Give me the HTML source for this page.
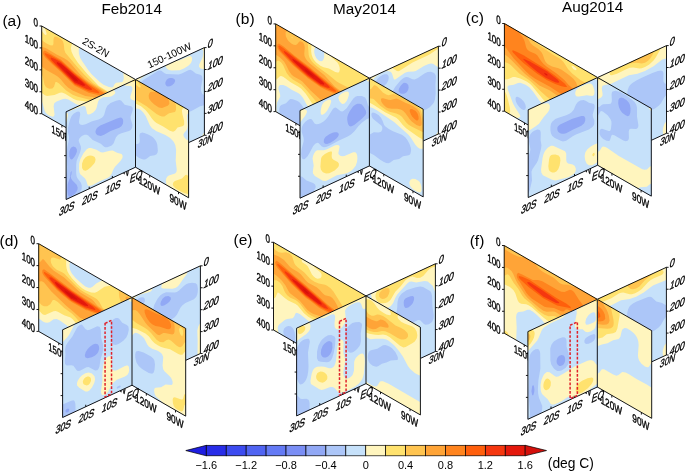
<!DOCTYPE html><html><head><meta charset="utf-8"><style>html,body{margin:0;padding:0;background:#fff;overflow:hidden}svg{display:block;will-change:transform}text{font-family:"Liberation Sans", sans-serif;fill:#000}</style></head><body>
<svg width="685" height="471" viewBox="0 0 685 471">
<rect width="685" height="471" fill="#fff"/>
<text x="101.5" y="14" font-size="15.3">Feb2014</text>
<text x="333" y="13.8" font-size="15.3">May2014</text>
<text x="562" y="11.6" font-size="15.3">Aug2014</text>
<g transform="matrix(93.800 53.500 0 87.700 41.700 26.000)">
<path d="M0 0H1V1H0Z" fill="#c6e1fa"/>
<path d="M.011 0L.4 0L.395 .037L.397 .075L.411 .113L.432 .139L.496 .2L.53 .225L.614 .257L.659 .267L.716 .26L.75 .244L.761 .23L.778 .188L.793 .163L.848 .125L.86 .113L.871 .087L.875 .062L.87 0L1 0L1 .552L.955 .551L.852 .534L.827 .537L.75 .567L.705 .577L.659 .581L.557 .578L.523 .587L.5 .598L.432 .646L.398 .661L.364 .667L.284 .666L.252 .675L.227 .694L.159 .765L.134 .8L.127 .838L.137 .925L.13 .95L.118 .962L.091 .971L.068 .972L.045 .964L.033 .95L.011 .879L0 .855L0 0Z" fill="#fff5be"/>
<path d="M.034 0L.324 0L.311 .062L.318 .1L.34 .138L.386 .183L.486 .25L.609 .312L.727 .317L.739 .328L.75 .329L.773 .353L.807 .349L.841 .332L.859 .312L.893 .263L.955 .227L.966 .216L1 .155L1 .355L.984 .375L.955 .427L.931 .45L.807 .469L.784 .482L.73 .525L.682 .543L.636 .548L.545 .547L.496 .562L.375 .618L.341 .623L.25 .621L.216 .627L.193 .642L.136 .705L.057 .763L.034 .77L0 .762L0 .053L.034 .078L.046 .075L.052 .062L.052 .05L.034 .009L.031 0Z" fill="#ffe26e"/>
<path d="M.159 .025L.205 .024L.226 .037L.235 .062L.241 .125L.252 .15L.375 .233L.455 .278L.545 .317L.716 .33L.727 .334L.749 .35L.756 .362L.759 .388L.755 .4L.746 .412L.727 .428L.705 .437L.709 .463L.7 .488L.687 .5L.659 .513L.625 .517L.545 .516L.386 .571L.33 .582L.261 .575L.182 .542L.159 .541L.147 .55L.131 .613L.114 .642L.08 .666L.057 .669L.045 .667L.029 .65L.013 .575L0 .549L0 .156L.023 .165L.057 .169L.091 .165L.114 .152L.122 .138L.125 .125L.126 .075L.131 .05L.137 .037Z" fill="#ffc450"/>
<path d="M.057 .224L.159 .229L.239 .222L.273 .225L.307 .238L.398 .295L.466 .325L.511 .333L.716 .347L.735 .362L.74 .375L.739 .388L.733 .4L.716 .413L.653 .425L.622 .437L.625 .45L.614 .464L.545 .478L.466 .513L.42 .523L.33 .533L.284 .531L.25 .517L.205 .486L.17 .472L.136 .469L.045 .472L0 .461L0 .24L.034 .227Z" fill="#ffa437"/>
<path d="M.034 .259L.205 .26L.352 .316L.5 .348L.602 .353L.676 .362L.716 .375L.716 .379L.714 .388L.682 .4L.614 .416L.5 .455L.352 .466L.205 .399L.114 .368L.034 .332L.016 .312L.014 .3L.019 .275Z" fill="#ff841e"/>
<path d="M.091 .274L.205 .274L.352 .328L.5 .362L.602 .375L.616 .388L.601 .4L.574 .412L.5 .438L.352 .452L.205 .386L.113 .35L.043 .312L.033 .3L.034 .287Z" fill="#ff5f0c"/>
<path d="M.182 .287L.205 .287L.352 .34L.532 .388L.537 .4L.519 .412L.481 .425L.352 .44L.152 .35L.107 .325L.095 .312L.099 .3L.136 .29Z" fill="#f5370f"/>
<path d="M.17 .31L.205 .304L.235 .312L.429 .375L.455 .388L.462 .4L.44 .412L.352 .427L.172 .338L.159 .325L.163 .312Z" fill="#e4180c"/>
<path d="M.261 .349L.33 .362L.367 .375L.387 .388L.384 .4L.352 .41L.267 .363L.256 .35Z" fill="#d4100c"/>
</g>
<g stroke="#000" stroke-width="0.9" fill="none">
<polyline points="135.50,79.50 41.70,26.00 41.70,113.70 135.50,167.20"/>
<line x1="41.70" y1="26.00" x2="39.50" y2="26.00"/>
<line x1="41.70" y1="47.92" x2="39.50" y2="47.92"/>
<line x1="41.70" y1="69.85" x2="39.50" y2="69.85"/>
<line x1="41.70" y1="91.78" x2="39.50" y2="91.78"/>
<line x1="41.70" y1="113.70" x2="39.50" y2="113.70"/>
<line x1="61.91" y1="125.23" x2="61.91" y2="127.43"/>
<line x1="91.23" y1="141.95" x2="91.23" y2="144.15"/>
<line x1="120.49" y1="158.64" x2="120.49" y2="160.84"/>
</g>
<text transform="matrix(0.700 0.401 0.000 1.000 38.10 27.60)" font-size="11.5" text-anchor="end" stroke="#000" stroke-width="0.35">0</text>
<text transform="matrix(0.700 0.401 0.000 1.000 38.10 49.52)" font-size="11.5" text-anchor="end" stroke="#000" stroke-width="0.35">100</text>
<text transform="matrix(0.700 0.401 0.000 1.000 38.10 71.45)" font-size="11.5" text-anchor="end" stroke="#000" stroke-width="0.35">200</text>
<text transform="matrix(0.700 0.401 0.000 1.000 38.10 93.38)" font-size="11.5" text-anchor="end" stroke="#000" stroke-width="0.35">300</text>
<text transform="matrix(0.700 0.401 0.000 1.000 38.10 115.30)" font-size="11.5" text-anchor="end" stroke="#000" stroke-width="0.35">400</text>
<text transform="matrix(0.680 0.390 0.050 1.000 60.71 137.83)" font-size="11.5" text-anchor="middle" stroke="#000" stroke-width="0.35">150E</text>
<text transform="matrix(0.680 0.390 0.050 1.000 119.29 171.24)" font-size="11.5" text-anchor="middle" stroke="#000" stroke-width="0.35">150W</text>
<text transform="matrix(0.868 0.497 -0.497 0.868 81.42 43.20)" font-size="10.3">2S-2N</text>
<g transform="matrix(68.900 -31.901 0 87.700 135.500 79.500)">
<path d="M0 0H1V1H0Z" fill="#91a8f5"/>
<path d="M.016 0L1 0L1 1L0 1L0 0ZM.475 .162L.453 .168L.434 .188L.434 .212L.45 .237L.469 .251L.5 .259L.531 .258L.562 .246L.576 .225L.565 .2L.531 .175L.5 .164Z" fill="#acc6f8"/>
<path d="M.016 0L1 0L1 .538L.984 .531L.966 .512L.951 .475L.95 .437L.972 .35L.965 .312L.94 .287L.875 .25L.826 .2L.797 .18L.766 .173L.672 .176L.625 .17L.448 .1L.422 .083L.375 .037L.359 .028L.328 .019L.109 .048L.083 .062L.072 .087L.076 .113L.085 .125L.156 .173L.172 .192L.181 .225L.18 .287L.191 .312L.219 .335L.281 .37L.337 .425L.413 .475L.475 .537L.516 .55L.609 .549L.641 .556L.669 .575L.719 .634L.754 .65L.812 .655L.938 .646L1 .656L1 1L0 1L0 0Z" fill="#c6e1fa"/>
<path d="M.016 0L.161 0L.078 .018L.047 .031L.031 .05L.013 .113L0 .136L0 0ZM.437 0L.589 0L.641 .013L.766 .015L.797 .023L.812 .035L.82 .05L.821 .075L.809 .1L.79 .113L.766 .121L.703 .13L.641 .127L.523 .087L.484 .068L.452 .037L.431 0ZM.984 0L1 0L1 .246L.969 .233L.938 .213L.922 .188L.926 .163L.968 .113L.98 .087L.986 .037L.969 0ZM1 .968L1 1L.963 1L.984 .976Z" fill="#fff5be"/>
</g>
<g stroke="#000" stroke-width="0.9" fill="none">
<polyline points="135.50,79.50 204.40,47.60 204.40,135.30 135.50,167.20"/>
<line x1="204.40" y1="47.60" x2="206.60" y2="47.60"/>
<line x1="204.40" y1="69.52" x2="206.60" y2="69.52"/>
<line x1="204.40" y1="91.45" x2="206.60" y2="91.45"/>
<line x1="204.40" y1="113.37" x2="206.60" y2="113.37"/>
<line x1="204.40" y1="135.30" x2="206.60" y2="135.30"/>
</g>
<text transform="matrix(0.750 -0.347 -0.220 1.000 207.00 48.40)" font-size="12.0" text-anchor="start" stroke="#000" stroke-width="0.35">0</text>
<text transform="matrix(0.750 -0.347 -0.220 1.000 207.00 70.32)" font-size="12.0" text-anchor="start" stroke="#000" stroke-width="0.35">100</text>
<text transform="matrix(0.750 -0.347 -0.220 1.000 207.00 92.25)" font-size="12.0" text-anchor="start" stroke="#000" stroke-width="0.35">200</text>
<text transform="matrix(0.750 -0.347 -0.220 1.000 207.00 114.17)" font-size="12.0" text-anchor="start" stroke="#000" stroke-width="0.35">300</text>
<text transform="matrix(0.750 -0.347 -0.220 1.000 207.00 136.10)" font-size="12.0" text-anchor="start" stroke="#000" stroke-width="0.35">400</text>
<text transform="matrix(0.720 -0.333 -0.200 1.000 204.90 144.80)" font-size="11.5" text-anchor="middle" stroke="#000" stroke-width="0.35">30N</text>
<text transform="matrix(0.908 -0.419 0.419 0.908 149.21 68.48)" font-size="10.3">150-100W</text>
<g transform="matrix(53.100 30.586 0 87.700 135.500 79.500)">
<path d="M0 0H1V1H0Z" fill="#acc6f8"/>
<path d="M.021 0L1 0L1 1L0 1L0 .865L.062 .87L.104 .868L.146 .861L.178 .85L.208 .832L.276 .775L.36 .738L.396 .715L.416 .688L.421 .662L.41 .6L.396 .577L.375 .561L.333 .546L.292 .542L.229 .543L.167 .551L.124 .562L.083 .588L.074 .613L.081 .662L.078 .688L.055 .713L0 .739L0 0Z" fill="#c6e1fa"/>
<path d="M.021 0L1 0L1 .037L.979 .052L.97 .075L.982 .175L.976 .212L.958 .248L.918 .287L.902 .312L.903 .325L.917 .34L.953 .35L1 .351L1 1L.581 1L.572 .95L.58 .925L.597 .9L.628 .875L.744 .813L.759 .8L.775 .775L.776 .75L.757 .662L.765 .537L.75 .488L.729 .466L.708 .454L.646 .439L.562 .438L.396 .453L.312 .446L.271 .429L.192 .35L.146 .324L.104 .314L.067 .312L0 .328L0 0Z" fill="#fff5be"/>
<path d="M.021 0L.912 0L.884 .025L.874 .05L.883 .087L.915 .15L.917 .191L.902 .212L.884 .225L.792 .271L.745 .325L.707 .35L.646 .36L.521 .353L.396 .359L.354 .354L.312 .339L.24 .3L.188 .282L.104 .27L0 .274L0 0ZM.938 .761L.958 .752L1 .751L1 .96L.917 .974L.833 .981L.771 .981L.729 .974L.708 .963L.702 .95L.712 .925L.742 .9L.875 .825Z" fill="#ffe26e"/>
<path d="M.062 0L.747 0L.763 .037L.763 .075L.753 .1L.741 .113L.632 .163L.542 .233L.5 .248L.458 .253L.396 .255L.208 .232L0 .229L0 .054L.062 .067L.087 .062L.098 .05L.091 .037L.062 .019L.046 0Z" fill="#ffc450"/>
<path d="M.375 .008L.392 0L.613 0L.632 .025L.638 .05L.633 .062L.606 .087L.5 .152L.438 .166L.354 .161L.299 .15L.268 .138L.254 .125L.248 .1L.255 .075L.273 .05L.292 .037Z" fill="#ffa437"/>
</g>
<g stroke="#000" stroke-width="0.9" fill="none">
<polyline points="135.50,79.50 188.60,110.09 188.60,197.79 135.50,167.20"/>
<line x1="149.68" y1="175.37" x2="149.68" y2="177.57"/>
<line x1="178.51" y1="191.97" x2="178.51" y2="194.17"/>
</g>
<text transform="matrix(0.720 0.413 0.000 1.000 149.18 189.17)" font-size="11.5" text-anchor="middle" stroke="#000" stroke-width="0.35">120W</text>
<text transform="matrix(0.720 0.413 0.000 1.000 178.01 205.77)" font-size="11.5" text-anchor="middle" stroke="#000" stroke-width="0.35">90W</text>
<g transform="matrix(69.400 -32.300 0 87.700 66.100 111.800)">
<path d="M0 0H1V1H0Z" fill="#91a8f5"/>
<path d="M.016 0L1 0L1 1L0 1L0 0ZM.492 .338L.453 .346L.438 .354L.424 .375L.423 .388L.433 .412L.453 .434L.5 .459L.547 .464L.641 .455L.766 .464L.797 .457L.819 .437L.823 .412L.819 .388L.801 .362L.781 .353L.734 .346ZM.07 .437L.057 .45L.047 .471L.046 .525L.062 .561L.078 .572L.094 .572L.125 .554L.141 .537L.155 .512L.155 .488L.141 .46L.109 .436L.094 .432ZM.065 .713L.056 .775L.031 .815L.023 .838L.019 .9L.025 .95L.035 .975L.047 .986L.078 .992L.125 .98L.154 .962L.163 .95L.167 .925L.152 .887L.088 .813L.073 .787L.067 .763L.078 .738L.08 .713L.078 .704Z" fill="#acc6f8"/>
<path d="M.016 0L1 0L1 1L.194 1L.224 .963L.226 .925L.213 .887L.161 .813L.15 .788L.145 .75L.145 .662L.152 .613L.202 .537L.215 .5L.213 .475L.181 .4L.183 .388L.191 .375L.214 .362L.234 .358L.266 .359L.297 .37L.319 .388L.384 .463L.5 .548L.548 .6L.566 .613L.594 .623L.641 .627L.656 .625L.683 .613L.719 .554L.75 .538L.797 .537L.906 .554L.932 .55L.948 .537L.954 .525L.956 .5L.931 .425L.929 .4L.959 .338L.96 .312L.955 .3L.938 .282L.844 .23L.792 .163L.766 .148L.719 .138L.641 .137L.594 .15L.573 .175L.549 .237L.534 .25L.516 .257L.469 .26L.375 .245L.281 .245L.234 .238L.203 .221L.188 .2L.186 .175L.204 .1L.196 .075L.178 .062L.156 .058L.107 .062L.078 .08L.062 .101L.045 .138L.025 .2L.025 .237L.041 .3L.041 .325L.017 .412L.009 .463L.008 .525L.017 .637L.012 .688L0 .729L0 0Z" fill="#c6e1fa"/>
<path d="M.047 0L.686 0L.709 .037L.705 .05L.688 .059L.656 .064L.625 .06L.531 .031L.484 .034L.463 .05L.438 .118L.422 .139L.391 .152L.344 .155L.32 .15L.304 .138L.281 .05L.272 .037L.251 .025L.203 .016L.062 .012L.047 .007L.043 0ZM.844 0L1 0L1 .244L.947 .212L.927 .188L.926 .163L.956 .1L.955 .075L.947 .062L.932 .05L.859 .019L.844 .007L.838 0ZM.016 .021L.024 .025L.027 .05L.016 .095L0 .129L0 .02ZM.297 .535L.328 .534L.359 .546L.438 .593L.5 .644L.531 .66L.629 .675L.672 .689L.734 .736L.8 .775L.815 .8L.811 .825L.783 .85L.702 .887L.679 .912L.654 .95L.625 .97L.594 .975L.484 .969L.375 .975L.328 .966L.31 .95L.288 .887L.273 .862L.204 .787L.193 .763L.186 .725L.188 .662L.203 .618L.25 .565Z" fill="#fff5be"/>
<path d="M.938 0L1 0L1 .022ZM.281 .621L.312 .618L.344 .624L.375 .638L.406 .662L.416 .675L.425 .7L.417 .725L.405 .738L.36 .763L.312 .776L.281 .775L.25 .759L.23 .725L.23 .675L.25 .64Z" fill="#ffe26e"/>
</g>
<g stroke="#000" stroke-width="0.9" fill="none">
<polyline points="135.50,79.50 66.10,111.80 66.10,199.50 135.50,167.20 135.50,79.50"/>
<line x1="66.10" y1="133.72" x2="64.10" y2="133.72"/>
<line x1="66.10" y1="155.65" x2="64.10" y2="155.65"/>
<line x1="66.10" y1="177.57" x2="64.10" y2="177.57"/>
<line x1="89.23" y1="188.73" x2="89.23" y2="186.73"/>
<line x1="112.37" y1="177.97" x2="112.37" y2="175.97"/>
</g>
<text transform="matrix(0.720 -0.333 -0.200 1.000 66.10 212.70)" font-size="12.0" text-anchor="middle" stroke="#000" stroke-width="0.35">30S</text>
<text transform="matrix(0.720 -0.333 -0.200 1.000 89.23 201.93)" font-size="12.0" text-anchor="middle" stroke="#000" stroke-width="0.35">20S</text>
<text transform="matrix(0.720 -0.333 -0.200 1.000 112.37 191.17)" font-size="12.0" text-anchor="middle" stroke="#000" stroke-width="0.35">10S</text>
<text transform="matrix(0.720 -0.333 -0.200 1.000 135.50 180.40)" font-size="12.0" text-anchor="middle" stroke="#000" stroke-width="0.35">EQ</text>
<text x="2.4" y="26.0" font-size="15.5">(a)</text>
<g transform="matrix(93.700 54.300 0 87.700 275.700 23.900)">
<path d="M0 0H1V1H0Z" fill="#acc6f8"/>
<path d="M.011 0L1 0L1 1L.317 1L.311 .95L.325 .862L.325 .838L.32 .813L.3 .775L.276 .75L.25 .737L.227 .735L.182 .746L.159 .758L.148 .769L.11 .838L.06 .887L.045 .911L.037 .95L.039 .975L.047 1L0 1L0 0Z" fill="#c6e1fa"/>
<path d="M.011 0L.421 0L.411 .05L.412 .075L.419 .1L.438 .125L.466 .134L.489 .124L.5 .111L.511 .088L.518 .05L.517 0L1 0L1 .557L.986 .575L.966 .633L.955 .648L.932 .655L.864 .639L.83 .641L.8 .662L.75 .73L.727 .743L.705 .748L.489 .732L.386 .751L.352 .736L.33 .714L.291 .662L.261 .642L.239 .639L.17 .645L.114 .64L.08 .646L.045 .67L.03 .7L.029 .725L.047 .775L.048 .8L.015 .887L.007 .95L.011 1L0 1L0 0Z" fill="#fff5be"/>
<path d="M.011 0L.382 0L.378 .075L.383 .113L.393 .138L.409 .159L.432 .174L.477 .183L.511 .177L.568 .158L.636 .155L.659 .147L.671 .138L.678 .125L.684 .1L.682 .075L.674 .05L.659 .033L.603 .013L.587 0L1 0L1 .347L.977 .346L.966 .353L.938 .412L.92 .437L.87 .488L.82 .55L.75 .626L.727 .647L.705 .657L.636 .654L.568 .671L.534 .676L.42 .673L.386 .662L.323 .6L.273 .571L.239 .567L.159 .568L.08 .554L.057 .558L.045 .568L0 .642L0 0Z" fill="#ffe26e"/>
<path d="M.011 0L.338 0L.345 .037L.352 .138L.361 .162L.384 .188L.409 .202L.443 .212L.557 .229L.648 .253L.682 .254L.773 .246L.818 .252L.839 .263L.852 .275L.867 .3L.881 .35L.877 .388L.862 .412L.807 .464L.761 .527L.739 .548L.716 .557L.659 .545L.636 .549L.572 .613L.549 .625L.523 .631L.477 .631L.432 .618L.318 .545L.273 .523L.182 .521L.148 .511L.117 .488L.08 .422L.057 .402L.033 .4L.023 .405L0 .431L0 0ZM.168 .05L.17 .053L.182 .052L.182 .043L.17 .044Z" fill="#ffc450"/>
<path d="M.023 0L.126 0L.109 .025L.105 .037L.108 .075L.123 .1L.136 .111L.17 .121L.193 .119L.216 .107L.231 .087L.25 .048L.261 .035L.284 .03L.295 .036L.305 .05L.31 .075L.305 .15L.307 .175L.321 .2L.341 .214L.375 .228L.518 .263L.629 .325L.682 .335L.705 .343L.721 .362L.724 .375L.721 .388L.705 .407L.686 .412L.668 .425L.653 .45L.591 .5L.545 .553L.534 .563L.511 .572L.477 .568L.375 .529L.284 .482L.261 .479L.193 .48L.17 .474L.142 .45L.111 .4L.089 .375L.045 .354L0 .349L0 .051L.011 .025L.016 0Z" fill="#ffa437"/>
<path d="M.034 .202L.08 .206L.205 .238L.364 .27L.419 .287L.455 .294L.466 .3L.5 .305L.671 .35L.699 .362L.705 .375L.699 .388L.682 .395L.545 .42L.477 .425L.341 .406L.331 .4L.295 .392L.182 .356L.045 .29L.034 .282L.018 .263L.015 .25L.017 .225Z" fill="#ff841e"/>
<path d="M.034 .224L.045 .22L.08 .225L.352 .281L.605 .35L.637 .362L.646 .375L.614 .39L.477 .414L.341 .391L.205 .349L.077 .287L.034 .259L.03 .237Z" fill="#ff5f0c"/>
<path d="M.091 .254L.114 .252L.148 .256L.352 .293L.552 .35L.574 .362L.577 .375L.551 .388L.477 .402L.341 .38L.182 .325L.097 .275L.085 .263Z" fill="#f5370f"/>
<path d="M.182 .286L.238 .287L.341 .303L.468 .338L.502 .35L.519 .362L.514 .375L.477 .388L.341 .367L.198 .312L.181 .3L.178 .287Z" fill="#e4180c"/>
<path d="M.318 .323L.354 .325L.411 .35L.349 .35L.32 .338L.31 .325Z" fill="#d4100c"/>
</g>
<g stroke="#000" stroke-width="0.9" fill="none">
<polyline points="369.40,78.20 275.70,23.90 275.70,111.60 369.40,165.90"/>
<line x1="275.70" y1="23.90" x2="273.50" y2="23.90"/>
<line x1="275.70" y1="45.83" x2="273.50" y2="45.83"/>
<line x1="275.70" y1="67.75" x2="273.50" y2="67.75"/>
<line x1="275.70" y1="89.68" x2="273.50" y2="89.68"/>
<line x1="275.70" y1="111.60" x2="273.50" y2="111.60"/>
<line x1="295.89" y1="123.30" x2="295.89" y2="125.50"/>
<line x1="325.17" y1="140.27" x2="325.17" y2="142.47"/>
<line x1="354.41" y1="157.21" x2="354.41" y2="159.41"/>
</g>
<text transform="matrix(0.700 0.401 0.000 1.000 272.10 25.50)" font-size="11.5" text-anchor="end" stroke="#000" stroke-width="0.35">0</text>
<text transform="matrix(0.700 0.401 0.000 1.000 272.10 47.43)" font-size="11.5" text-anchor="end" stroke="#000" stroke-width="0.35">100</text>
<text transform="matrix(0.700 0.401 0.000 1.000 272.10 69.35)" font-size="11.5" text-anchor="end" stroke="#000" stroke-width="0.35">200</text>
<text transform="matrix(0.700 0.401 0.000 1.000 272.10 91.28)" font-size="11.5" text-anchor="end" stroke="#000" stroke-width="0.35">300</text>
<text transform="matrix(0.700 0.401 0.000 1.000 272.10 113.20)" font-size="11.5" text-anchor="end" stroke="#000" stroke-width="0.35">400</text>
<text transform="matrix(0.680 0.390 0.050 1.000 294.69 135.90)" font-size="11.5" text-anchor="middle" stroke="#000" stroke-width="0.35">150E</text>
<text transform="matrix(0.680 0.390 0.050 1.000 353.21 169.81)" font-size="11.5" text-anchor="middle" stroke="#000" stroke-width="0.35">150W</text>
<g transform="matrix(69.000 -31.947 0 87.700 369.400 78.200)">
<path d="M0 0H1V1H0Z" fill="#91a8f5"/>
<path d="M.016 0L1 0L1 1L0 1L0 0ZM.48 .237L.453 .25L.428 .275L.423 .3L.428 .312L.452 .338L.473 .35L.5 .359L.531 .359L.55 .35L.562 .335L.569 .312L.564 .287L.548 .263L.531 .247L.5 .235Z" fill="#acc6f8"/>
<path d="M.016 0L1 0L1 1L0 1L0 0ZM.144 .038L.113 .05L.092 .075L.09 .113L.104 .138L.125 .152L.172 .164L.219 .163L.25 .151L.273 .125L.28 .1L.277 .075L.266 .057L.25 .045L.219 .035L.188 .033ZM.454 .188L.372 .237L.336 .275L.329 .3L.331 .312L.349 .338L.531 .462L.585 .525L.665 .575L.711 .625L.734 .642L.781 .655L.828 .656L.875 .649L.922 .628L.938 .612L.95 .588L.961 .525L.957 .425L.964 .338L.959 .312L.938 .282L.891 .25L.844 .237L.797 .236L.703 .254L.656 .254L.625 .24L.562 .194L.531 .18L.5 .176Z" fill="#c6e1fa"/>
<path d="M.016 0L1 0L1 .242L.922 .17L.891 .157L.859 .151L.797 .148L.672 .162L.641 .156L.562 .13L.516 .125L.375 .152L.359 .145L.353 .138L.326 .062L.307 .037L.266 .015L.219 .004L.172 .004L.125 .009L.094 .016L.062 .029L.043 .05L.021 .113L0 .138L0 0ZM1 .971L1 1L.963 1L.973 .988Z" fill="#fff5be"/>
<path d="M.328 0L1 0L1 .027L.859 .048L.625 .048L.438 .076L.422 .074L.398 .062Z" fill="#ffe26e"/>
</g>
<g stroke="#000" stroke-width="0.9" fill="none">
<polyline points="369.40,78.20 438.40,46.25 438.40,133.95 369.40,165.90"/>
<line x1="438.40" y1="46.25" x2="440.60" y2="46.25"/>
<line x1="438.40" y1="68.18" x2="440.60" y2="68.18"/>
<line x1="438.40" y1="90.10" x2="440.60" y2="90.10"/>
<line x1="438.40" y1="112.03" x2="440.60" y2="112.03"/>
<line x1="438.40" y1="133.95" x2="440.60" y2="133.95"/>
</g>
<text transform="matrix(0.750 -0.347 -0.220 1.000 441.00 47.05)" font-size="12.0" text-anchor="start" stroke="#000" stroke-width="0.35">0</text>
<text transform="matrix(0.750 -0.347 -0.220 1.000 441.00 68.98)" font-size="12.0" text-anchor="start" stroke="#000" stroke-width="0.35">100</text>
<text transform="matrix(0.750 -0.347 -0.220 1.000 441.00 90.90)" font-size="12.0" text-anchor="start" stroke="#000" stroke-width="0.35">200</text>
<text transform="matrix(0.750 -0.347 -0.220 1.000 441.00 112.83)" font-size="12.0" text-anchor="start" stroke="#000" stroke-width="0.35">300</text>
<text transform="matrix(0.750 -0.347 -0.220 1.000 441.00 134.75)" font-size="12.0" text-anchor="start" stroke="#000" stroke-width="0.35">400</text>
<text transform="matrix(0.720 -0.333 -0.200 1.000 438.90 143.45)" font-size="11.5" text-anchor="middle" stroke="#000" stroke-width="0.35">30N</text>
<g transform="matrix(53.800 30.989 0 87.700 369.400 78.200)">
<path d="M0 0H1V1H0Z" fill="#acc6f8"/>
<path d="M.021 0L1 0L1 1L0 1L0 .85L.083 .846L.208 .859L.271 .861L.312 .857L.354 .846L.388 .825L.45 .775L.552 .725L.625 .669L.708 .632L.743 .613L.764 .588L.775 .55L.771 .524L.746 .488L.708 .458L.667 .438L.604 .431L.438 .45L.354 .45L.292 .444L.271 .436L.246 .4L.216 .375L.167 .361L.104 .359L.062 .368L.042 .385L.036 .4L.044 .425L.062 .437L.083 .443L.226 .463L.239 .475L.239 .5L.224 .525L.208 .539L.167 .559L.081 .588L0 .644L0 0Z" fill="#c6e1fa"/>
<path d="M.021 0L1 0L1 .451L.938 .473L.896 .471L.854 .456L.771 .408L.721 .388L.458 .337L.146 .318L.062 .319L0 .329L0 0ZM.854 .847L.917 .848L.938 .856L.958 .876L.967 .9L.968 .938L.955 .962L.931 .975L.875 .982L.812 .978L.771 .968L.747 .95L.742 .925L.764 .887L.802 .862Z" fill="#fff5be"/>
<path d="M.021 0L1 0L1 .348L.917 .35L.688 .33L.625 .315L.542 .282L.5 .274L.292 .285L.083 .276L0 .277L0 0Z" fill="#ffe26e"/>
<path d="M.521 .012L.833 .006L.896 .01L.938 .019L.962 .037L1 .112L1 .262L.792 .274L.729 .272L.685 .263L.604 .227L.562 .221L.5 .225L.375 .249L.312 .253L.208 .244L.083 .21L.062 .211L0 .23L0 .128L.031 .113L.085 .05L.104 .043L.146 .044L.25 .075L.312 .077L.354 .068L.441 .025Z" fill="#ffc450"/>
<path d="M.75 .036L.812 .032L.875 .036L.917 .049L.933 .062L.958 .108L.972 .163L.97 .188L.963 .2L.938 .216L.875 .225L.792 .216L.75 .202L.667 .16L.625 .151L.583 .152L.521 .164L.417 .202L.354 .218L.312 .22L.271 .214L.236 .2L.221 .188L.215 .163L.229 .148L.255 .138L.354 .12L.396 .109L.5 .055L.542 .048L.667 .045Z" fill="#ffa437"/>
<path d="M.792 .071L.854 .069L.875 .075L.896 .088L.911 .113L.915 .138L.911 .15L.896 .166L.875 .172L.833 .169L.792 .153L.77 .138L.751 .113L.749 .1L.757 .087Z" fill="#ff841e"/>
</g>
<g stroke="#000" stroke-width="0.9" fill="none">
<polyline points="369.40,78.20 423.20,109.19 423.20,196.89 369.40,165.90"/>
<line x1="383.76" y1="174.17" x2="383.76" y2="176.37"/>
<line x1="412.98" y1="191.00" x2="412.98" y2="193.20"/>
</g>
<text transform="matrix(0.720 0.413 0.000 1.000 383.26 187.97)" font-size="11.5" text-anchor="middle" stroke="#000" stroke-width="0.35">120W</text>
<text transform="matrix(0.720 0.413 0.000 1.000 412.48 204.80)" font-size="11.5" text-anchor="middle" stroke="#000" stroke-width="0.35">90W</text>
<g transform="matrix(69.400 -32.300 0 87.700 300.000 110.500)">
<path d="M0 0H1V1H0Z" fill="#91a8f5"/>
<path d="M.016 0L1 0L1 1L0 1L0 0ZM.764 .237L.714 .275L.693 .3L.682 .325L.68 .35L.686 .388L.694 .412L.71 .437L.734 .453L.781 .452L.891 .421L.94 .4L.951 .388L.954 .375L.948 .35L.922 .302L.891 .261L.859 .239L.828 .228L.797 .227ZM.37 .437L.352 .45L.344 .463L.343 .488L.36 .512L.391 .526L.438 .53L.484 .524L.525 .512L.547 .5L.557 .488L.559 .475L.547 .455L.531 .444L.5 .432L.469 .427L.422 .426Z" fill="#acc6f8"/>
<path d="M.016 0L1 0L1 .33L.98 .3L.955 .225L.938 .196L.891 .163L.828 .14L.797 .138L.766 .148L.672 .221L.625 .237L.609 .236L.587 .225L.516 .157L.5 .152L.484 .154L.469 .162L.406 .217L.375 .237L.344 .249L.297 .255L.266 .253L.234 .244L.21 .225L.172 .167L.156 .154L.141 .149L.109 .148L.078 .156L.047 .174L.031 .193L.024 .212L.024 .25L.05 .325L.054 .35L.051 .375L.022 .45L.017 .5L.022 .538L.031 .56L.047 .574L.062 .578L.078 .576L.109 .561L.135 .537L.188 .476L.219 .459L.25 .46L.266 .469L.314 .525L.344 .545L.375 .554L.422 .557L.562 .549L.688 .549L.734 .543L.781 .527L.844 .488L.891 .467L.953 .453L1 .455L1 1L.191 1L.224 .963L.226 .95L.217 .925L.188 .895L.094 .834L.031 .766L0 .753L0 0Z" fill="#c6e1fa"/>
<path d="M.016 0L.053 0L.087 .025L.097 .037L.1 .05L.094 .067L.075 .087L0 .137L0 0ZM.969 0L1 0L1 .035L.984 .032L.969 .023L.96 0ZM.625 .025L.656 .027L.687 .037L.7 .05L.705 .062L.703 .087L.688 .12L.672 .138L.641 .155L.612 .15L.594 .137L.567 .1L.553 .062L.556 .05L.57 .037L.594 .029ZM.344 .033L.375 .026L.422 .031L.436 .037L.448 .05L.45 .062L.433 .1L.391 .147L.359 .165L.328 .169L.312 .164L.3 .15L.297 .113L.313 .062L.328 .043ZM.234 .546L.25 .546L.344 .58L.391 .585L.5 .583L.531 .588L.557 .6L.568 .613L.571 .625L.553 .688L.554 .7L.578 .728L.609 .746L.641 .756L.766 .757L.797 .77L.812 .786L.824 .813L.827 .85L.822 .887L.803 .925L.766 .95L.734 .959L.688 .962L.641 .958L.531 .934L.375 .941L.328 .921L.214 .825L.187 .787L.185 .763L.197 .7L.181 .613L.188 .588L.203 .565L.219 .552Z" fill="#fff5be"/>
<path d="M.328 .636L.359 .628L.406 .625L.438 .629L.457 .637L.461 .65L.456 .688L.461 .713L.482 .738L.544 .787L.561 .813L.559 .838L.548 .85L.5 .867L.422 .871L.375 .857L.33 .825L.302 .787L.294 .75L.303 .662L.312 .646Z" fill="#ffe26e"/>
</g>
<g stroke="#000" stroke-width="0.9" fill="none">
<polyline points="369.40,78.20 300.00,110.50 300.00,198.20 369.40,165.90 369.40,78.20"/>
<line x1="300.00" y1="132.43" x2="298.00" y2="132.43"/>
<line x1="300.00" y1="154.35" x2="298.00" y2="154.35"/>
<line x1="300.00" y1="176.28" x2="298.00" y2="176.28"/>
<line x1="323.13" y1="187.43" x2="323.13" y2="185.43"/>
<line x1="346.27" y1="176.67" x2="346.27" y2="174.67"/>
</g>
<text transform="matrix(0.720 -0.333 -0.200 1.000 300.00 211.40)" font-size="12.0" text-anchor="middle" stroke="#000" stroke-width="0.35">30S</text>
<text transform="matrix(0.720 -0.333 -0.200 1.000 323.13 200.63)" font-size="12.0" text-anchor="middle" stroke="#000" stroke-width="0.35">20S</text>
<text transform="matrix(0.720 -0.333 -0.200 1.000 346.27 189.87)" font-size="12.0" text-anchor="middle" stroke="#000" stroke-width="0.35">10S</text>
<text transform="matrix(0.720 -0.333 -0.200 1.000 369.40 179.10)" font-size="12.0" text-anchor="middle" stroke="#000" stroke-width="0.35">EQ</text>
<text x="235.6" y="24.2" font-size="15.5">(b)</text>
<g transform="matrix(93.200 54.000 0 87.700 504.400 23.500)">
<path d="M0 0H1V1H0Z" fill="#acc6f8"/>
<path d="M.011 0L1 0L1 1L0 1L0 0ZM.139 .75L.124 .763L.119 .787L.124 .813L.136 .833L.159 .854L.182 .862L.205 .859L.217 .85L.225 .838L.23 .813L.226 .788L.216 .77L.205 .759L.182 .749L.159 .746Z" fill="#c6e1fa"/>
<path d="M.011 0L1 0L1 .544L.966 .517L.943 .518L.909 .542L.862 .613L.851 .625L.83 .639L.807 .645L.739 .645L.67 .666L.625 .672L.477 .672L.432 .668L.398 .658L.375 .646L.307 .586L.267 .562L.227 .558L.17 .572L.146 .588L.1 .637L.045 .679L.034 .698L.033 .713L.04 .738L.091 .852L.114 .885L.165 .938L.171 .95L.169 .963L.136 1L0 1L0 0Z" fill="#fff5be"/>
<path d="M.011 0L1 0L1 .348L.977 .35L.966 .36L.948 .412L.932 .437L.83 .541L.807 .55L.75 .538L.727 .543L.716 .552L.679 .6L.659 .615L.636 .624L.602 .628L.489 .627L.443 .621L.409 .605L.295 .528L.273 .519L.239 .515L.17 .523L.114 .54L.091 .554L.037 .613L0 .639L0 0ZM.723 .037L.721 .05L.739 .065L.761 .064L.775 .05L.769 .038L.75 .031L.739 .031ZM.007 .775L.023 .799L.033 .825L.059 .925L.062 .963L.054 1L0 1L0 .767Z" fill="#ffe26e"/>
<path d="M.011 0L.322 0L.345 .013L.375 .018L.523 .034L.602 .035L.636 .051L.682 .1L.727 .122L.818 .144L.909 .137L.932 .138L.955 .147L.966 .158L.973 .175L.974 .213L.969 .225L.958 .237L.89 .263L.875 .274L.866 .287L.86 .312L.865 .375L.862 .4L.85 .425L.818 .455L.795 .465L.739 .474L.705 .486L.682 .501L.636 .548L.614 .562L.591 .564L.534 .554L.477 .559L.455 .556L.386 .532L.295 .491L.261 .482L.159 .471L.068 .431L.034 .429L0 .439L0 0Z" fill="#ffc450"/>
<path d="M.011 0L.236 0L.284 .054L.307 .062L.364 .066L.398 .082L.411 .1L.432 .151L.443 .165L.466 .177L.511 .176L.58 .154L.614 .15L.693 .161L.74 .175L.77 .2L.78 .225L.781 .25L.775 .3L.78 .362L.775 .388L.761 .407L.737 .425L.659 .464L.625 .476L.591 .478L.489 .464L.375 .477L.216 .438L.08 .372L.034 .356L0 .351L0 0Z" fill="#ffa437"/>
<path d="M.011 0L.149 0L.193 .033L.207 .05L.218 .075L.232 .125L.239 .137L.25 .147L.273 .152L.33 .142L.352 .146L.395 .188L.42 .204L.455 .214L.56 .225L.625 .243L.648 .252L.687 .275L.739 .293L.744 .312L.739 .327L.704 .338L.699 .35L.699 .375L.684 .4L.659 .418L.625 .429L.591 .429L.489 .419L.33 .426L.273 .418L.227 .403L.103 .338L.068 .312L.023 .271L0 .258L0 0Z" fill="#ff841e"/>
<path d="M.205 .237L.455 .246L.545 .26L.646 .287L.668 .3L.671 .312L.65 .325L.613 .338L.545 .354L.455 .364L.352 .355L.205 .324L.142 .3L.092 .275L.083 .263L.091 .25L.136 .242Z" fill="#ff5f0c"/>
<path d="M.205 .275L.273 .266L.455 .265L.566 .287L.587 .3L.588 .312L.57 .325L.545 .333L.443 .345L.352 .334L.268 .312L.206 .287Z" fill="#f5370f"/>
<path d="M.432 .298L.455 .297L.463 .3L.46 .312L.443 .314L.435 .312L.424 .3Z" fill="#e4180c"/>
</g>
<g stroke="#000" stroke-width="0.9" fill="none">
<polyline points="597.60,77.50 504.40,23.50 504.40,111.20 597.60,165.20"/>
<line x1="504.40" y1="23.50" x2="502.20" y2="23.50"/>
<line x1="504.40" y1="45.42" x2="502.20" y2="45.42"/>
<line x1="504.40" y1="67.35" x2="502.20" y2="67.35"/>
<line x1="504.40" y1="89.28" x2="502.20" y2="89.28"/>
<line x1="504.40" y1="111.20" x2="502.20" y2="111.20"/>
<line x1="524.48" y1="122.84" x2="524.48" y2="125.04"/>
<line x1="553.61" y1="139.71" x2="553.61" y2="141.91"/>
<line x1="582.69" y1="156.56" x2="582.69" y2="158.76"/>
</g>
<text transform="matrix(0.700 0.401 0.000 1.000 500.80 25.10)" font-size="11.5" text-anchor="end" stroke="#000" stroke-width="0.35">0</text>
<text transform="matrix(0.700 0.401 0.000 1.000 500.80 47.02)" font-size="11.5" text-anchor="end" stroke="#000" stroke-width="0.35">100</text>
<text transform="matrix(0.700 0.401 0.000 1.000 500.80 68.95)" font-size="11.5" text-anchor="end" stroke="#000" stroke-width="0.35">200</text>
<text transform="matrix(0.700 0.401 0.000 1.000 500.80 90.88)" font-size="11.5" text-anchor="end" stroke="#000" stroke-width="0.35">300</text>
<text transform="matrix(0.700 0.401 0.000 1.000 500.80 112.80)" font-size="11.5" text-anchor="end" stroke="#000" stroke-width="0.35">400</text>
<text transform="matrix(0.680 0.390 0.050 1.000 523.28 135.44)" font-size="11.5" text-anchor="middle" stroke="#000" stroke-width="0.35">150E</text>
<text transform="matrix(0.680 0.390 0.050 1.000 581.49 169.16)" font-size="11.5" text-anchor="middle" stroke="#000" stroke-width="0.35">150W</text>
<g transform="matrix(68.900 -31.901 0 87.700 597.600 77.500)">
<path d="M0 0H1V1H0Z" fill="#acc6f8"/>
<path d="M.016 0L1 0L1 .438L.977 .425L.959 .4L.954 .375L.956 .3L.948 .275L.922 .255L.875 .244L.795 .237L.641 .236L.562 .238L.5 .247L.469 .26L.452 .275L.437 .302L.429 .35L.434 .388L.453 .419L.531 .468L.586 .525L.665 .575L.719 .632L.75 .649L.781 .656L.828 .657L.891 .644L.922 .625L.969 .578L1 .561L1 1L0 1L0 0Z" fill="#c6e1fa"/>
<path d="M.016 0L1 0L1 .144L.938 .136L.812 .167L.688 .175L.578 .168L.453 .14L0 .146L0 0ZM1 .859L1 1L.955 1L.946 .963L.95 .925L.969 .884Z" fill="#fff5be"/>
<path d="M.188 0L.921 0L.848 .075L.812 .101L.75 .124L.688 .13L.641 .127L.609 .12L.516 .074L.469 .06L.422 .057L.281 .06L.207 .05L.183 .037L.176 .025L.177 0Z" fill="#ffe26e"/>
<path d="M.453 0L.819 0L.792 .037L.766 .06L.733 .075L.688 .081L.641 .074L.562 .036L.481 .013Z" fill="#ffc450"/>
</g>
<g stroke="#000" stroke-width="0.9" fill="none">
<polyline points="597.60,77.50 666.50,45.60 666.50,133.30 597.60,165.20"/>
<line x1="666.50" y1="45.60" x2="668.70" y2="45.60"/>
<line x1="666.50" y1="67.52" x2="668.70" y2="67.52"/>
<line x1="666.50" y1="89.45" x2="668.70" y2="89.45"/>
<line x1="666.50" y1="111.37" x2="668.70" y2="111.37"/>
<line x1="666.50" y1="133.30" x2="668.70" y2="133.30"/>
</g>
<text transform="matrix(0.750 -0.347 -0.220 1.000 669.10 46.40)" font-size="12.0" text-anchor="start" stroke="#000" stroke-width="0.35">0</text>
<text transform="matrix(0.750 -0.347 -0.220 1.000 669.10 68.32)" font-size="12.0" text-anchor="start" stroke="#000" stroke-width="0.35">100</text>
<text transform="matrix(0.750 -0.347 -0.220 1.000 669.10 90.25)" font-size="12.0" text-anchor="start" stroke="#000" stroke-width="0.35">200</text>
<text transform="matrix(0.750 -0.347 -0.220 1.000 669.10 112.17)" font-size="12.0" text-anchor="start" stroke="#000" stroke-width="0.35">300</text>
<text transform="matrix(0.750 -0.347 -0.220 1.000 669.10 134.10)" font-size="12.0" text-anchor="start" stroke="#000" stroke-width="0.35">400</text>
<text transform="matrix(0.720 -0.333 -0.200 1.000 667.00 142.80)" font-size="11.5" text-anchor="middle" stroke="#000" stroke-width="0.35">30N</text>
<g transform="matrix(53.700 30.931 0 87.700 597.600 77.500)">
<path d="M0 0H1V1H0Z" fill="#91a8f5"/>
<path d="M.021 0L1 0L1 1L0 1L0 0ZM.437 .075L.399 .1L.386 .125L.384 .162L.398 .2L.424 .225L.458 .239L.521 .248L.562 .243L.591 .225L.609 .188L.615 .138L.603 .1L.583 .083L.542 .068L.479 .066Z" fill="#acc6f8"/>
<path d="M.021 0L1 0L1 1L0 1L0 .442L.06 .362L.083 .355L.104 .354L.187 .365L.239 .388L.257 .412L.259 .437L.251 .488L.243 .512L.229 .53L.206 .537L.083 .555L.062 .564L.039 .588L.036 .625L.042 .638L.062 .655L.104 .665L.167 .663L.208 .652L.229 .637L.256 .575L.271 .557L.312 .549L.479 .549L.521 .542L.558 .525L.572 .512L.583 .487L.58 .412L.589 .388L.601 .375L.625 .363L.706 .338L.732 .325L.755 .3L.76 .275L.734 .188L.734 .087L.724 .062L.713 .05L.688 .037L.625 .024L.521 .017L.417 .018L.333 .033L.279 .062L.268 .075L.26 .1L.265 .163L.262 .188L.243 .213L.208 .23L.104 .268L.074 .287L.033 .325L0 .334L0 0Z" fill="#c6e1fa"/>
<path d="M.021 0L.22 0L.134 .038L.093 .062L.083 .075L.078 .1L.092 .15L.091 .175L.071 .2L0 .252L0 0ZM.958 0L1 0L1 .031L.979 .026L.958 .013L.948 0ZM1 .657L1 .858L.979 .87L.917 .921L.792 .973L.77 .988L.762 1L0 1L0 .849L.037 .825L.082 .763L.104 .75L.146 .742L.187 .741L.396 .755L.833 .751L.875 .743L.917 .725L.969 .675Z" fill="#fff5be"/>
<path d="M.021 0L.075 0L0 .024L0 0Z" fill="#ffe26e"/>
</g>
<g stroke="#000" stroke-width="0.9" fill="none">
<polyline points="597.60,77.50 651.30,108.43 651.30,196.13 597.60,165.20"/>
<line x1="611.94" y1="173.46" x2="611.94" y2="175.66"/>
<line x1="641.10" y1="190.25" x2="641.10" y2="192.45"/>
</g>
<text transform="matrix(0.720 0.413 0.000 1.000 611.44 187.26)" font-size="11.5" text-anchor="middle" stroke="#000" stroke-width="0.35">120W</text>
<text transform="matrix(0.720 0.413 0.000 1.000 640.60 204.05)" font-size="11.5" text-anchor="middle" stroke="#000" stroke-width="0.35">90W</text>
<g transform="matrix(69.400 -32.300 0 87.700 528.200 109.800)">
<path d="M0 0H1V1H0Z" fill="#91a8f5"/>
<path d="M.016 0L1 0L1 1L0 1L0 0ZM.459 .338L.438 .342L.425 .35L.419 .362L.421 .388L.435 .412L.461 .437L.484 .452L.516 .464L.547 .468L.641 .463L.766 .464L.807 .45L.822 .425L.822 .4L.81 .375L.795 .363L.766 .352L.637 .338ZM.06 .588L.062 .591L.065 .588Z" fill="#acc6f8"/>
<path d="M.016 0L1 0L1 1L0 1L0 .958L.022 .925L.055 .825L.047 .724L.06 .7L.124 .65L.143 .625L.185 .512L.191 .475L.179 .412L.181 .325L.173 .3L.156 .284L.133 .275L.094 .271L.059 .275L.031 .289L.011 .325L.011 .362L.032 .463L.024 .5L0 .536L0 0ZM.715 .175L.688 .193L.656 .24L.625 .259L.594 .264L.547 .265L.438 .251L.391 .25L.345 .263L.328 .281L.32 .312L.32 .35L.327 .388L.344 .424L.384 .463L.469 .527L.5 .546L.547 .554L.641 .539L.688 .536L.875 .548L.925 .537L.943 .525L.952 .512L.954 .475L.933 .425L.929 .4L.957 .325L.956 .3L.949 .287L.936 .275L.875 .241L.827 .2L.797 .182L.75 .171Z" fill="#c6e1fa"/>
<path d="M.016 0L.192 0L.219 .012L.269 .025L.294 .037L.31 .062L.312 .087L.304 .113L.281 .134L.219 .168L.156 .216L.109 .229L0 .246L0 0ZM.75 .012L.844 .017L.88 .025L.907 .037L.929 .062L.949 .113L.956 .15L.951 .175L.938 .183L.922 .181L.844 .145L.734 .12L.712 .112L.692 .1L.678 .075L.679 .05L.684 .037L.703 .022ZM.969 0L1 0L1 .029L.971 .013L.963 0ZM.281 .535L.328 .531L.359 .542L.531 .667L.548 .7L.548 .775L.554 .8L.574 .825L.641 .859L.672 .887L.687 .925L.683 .95L.672 .964L.641 .977L.578 .981L.391 .949L.344 .924L.211 .825L.19 .787L.185 .75L.207 .625L.219 .591L.234 .567L.25 .552ZM.906 .748L.953 .746L1 .75L1 .961L.969 .97L.922 .971L.875 .955L.844 .925L.82 .875L.813 .825L.824 .787L.853 .763Z" fill="#fff5be"/>
<path d="M.312 .648L.328 .64L.344 .639L.391 .654L.438 .683L.459 .713L.464 .75L.453 .802L.433 .838L.406 .853L.375 .854L.344 .841L.312 .817L.297 .794L.29 .75L.301 .675ZM.938 .837L.953 .841L.958 .862L.953 .873L.937 .877L.925 .862L.924 .85Z" fill="#ffe26e"/>
</g>
<g stroke="#000" stroke-width="0.9" fill="none">
<polyline points="597.60,77.50 528.20,109.80 528.20,197.50 597.60,165.20 597.60,77.50"/>
<line x1="528.20" y1="131.72" x2="526.20" y2="131.72"/>
<line x1="528.20" y1="153.65" x2="526.20" y2="153.65"/>
<line x1="528.20" y1="175.57" x2="526.20" y2="175.57"/>
<line x1="551.33" y1="186.73" x2="551.33" y2="184.73"/>
<line x1="574.47" y1="175.97" x2="574.47" y2="173.97"/>
</g>
<text transform="matrix(0.720 -0.333 -0.200 1.000 528.20 210.70)" font-size="12.0" text-anchor="middle" stroke="#000" stroke-width="0.35">30S</text>
<text transform="matrix(0.720 -0.333 -0.200 1.000 551.33 199.93)" font-size="12.0" text-anchor="middle" stroke="#000" stroke-width="0.35">20S</text>
<text transform="matrix(0.720 -0.333 -0.200 1.000 574.47 189.17)" font-size="12.0" text-anchor="middle" stroke="#000" stroke-width="0.35">10S</text>
<text transform="matrix(0.720 -0.333 -0.200 1.000 597.60 178.40)" font-size="12.0" text-anchor="middle" stroke="#000" stroke-width="0.35">EQ</text>
<text x="465.8" y="23.4" font-size="15.5">(c)</text>
<g transform="matrix(93.300 53.800 0 87.700 38.700 243.700)">
<path d="M0 0H1V1H0Z" fill="#c6e1fa"/>
<path d="M.011 0L.335 0L.329 .037L.332 .075L.341 .101L.357 .125L.398 .15L.47 .175L.5 .18L.534 .176L.557 .162L.577 .138L.616 .075L.68 0L1 0L1 .654L.943 .657L.841 .642L.75 .666L.705 .672L.648 .672L.58 .662L.557 .665L.523 .683L.466 .73L.432 .744L.318 .748L.227 .736L.193 .739L.16 .762L.115 .825L.091 .846L.068 .856L.045 .859L0 .85L0 0Z" fill="#fff5be"/>
<path d="M.011 0L.294 0L.294 .062L.299 .1L.308 .125L.325 .15L.356 .175L.42 .207L.466 .221L.5 .223L.562 .212L.602 .189L.627 .163L.705 .058L.76 .013L.768 0L1 0L1 .442L.966 .421L.955 .42L.932 .429L.859 .5L.786 .588L.761 .607L.727 .623L.67 .629L.602 .618L.568 .617L.534 .627L.477 .661L.443 .673L.409 .668L.364 .639L.341 .632L.273 .647L.205 .649L.182 .657L.159 .674L.068 .77L.045 .779L.027 .775L0 .756L0 0Z" fill="#ffe26e"/>
<path d="M.011 0L.242 0L.238 .025L.227 .042L.159 .059L.14 .075L.133 .087L.128 .113L.133 .138L.148 .16L.159 .169L.193 .18L.25 .172L.273 .173L.407 .237L.455 .253L.489 .255L.591 .248L.625 .25L.648 .264L.685 .312L.727 .319L.754 .338L.761 .352L.818 .345L.852 .354L.868 .375L.867 .4L.852 .427L.792 .487L.75 .542L.728 .562L.716 .568L.693 .572L.636 .559L.602 .56L.557 .574L.477 .616L.455 .621L.432 .618L.38 .588L.352 .577L.273 .566L.205 .54L.17 .537L.151 .55L.124 .613L.091 .656L.057 .679L.034 .681L.023 .676L0 .663L0 0ZM.864 0L1 0L1 .149L.966 .156L.932 .154L.909 .146L.886 .129L.87 .1L.863 .075L.859 .025L.86 0Z" fill="#ffc450"/>
<path d="M.955 .023L.968 .025L.981 .037L.983 .05L.98 .062L.966 .077L.955 .078L.943 .074L.934 .062L.931 .05L.933 .037L.943 .027ZM.045 .148L.057 .147L.113 .188L.159 .207L.273 .219L.443 .282L.568 .286L.591 .295L.614 .312L.636 .322L.716 .331L.728 .338L.74 .35L.746 .362L.746 .375L.742 .388L.727 .404L.672 .425L.665 .437L.652 .45L.533 .537L.477 .57L.443 .573L.375 .549L.295 .527L.136 .463L.057 .408L.034 .407L0 .43L0 .217L.015 .2Z" fill="#ffa437"/>
<path d="M.057 .257L.148 .269L.366 .312L.568 .329L.705 .347L.718 .35L.728 .362L.728 .375L.716 .391L.568 .43L.524 .437L.511 .444L.352 .449L.318 .445L.304 .437L.273 .432L.193 .408L.057 .332L.04 .312L.038 .3L.041 .275Z" fill="#ff841e"/>
<path d="M.068 .283L.136 .284L.352 .322L.622 .35L.674 .362L.682 .375L.663 .388L.625 .4L.5 .431L.341 .437L.205 .397L.138 .362L.065 .312L.056 .3L.057 .288Z" fill="#ff5f0c"/>
<path d="M.114 .312L.136 .303L.193 .307L.352 .333L.568 .36L.585 .362L.61 .375L.598 .388L.5 .419L.352 .427L.193 .379L.13 .338L.117 .325Z" fill="#f5370f"/>
<path d="M.193 .324L.477 .362L.527 .375L.53 .388L.489 .404L.341 .413L.196 .362L.171 .338L.182 .326Z" fill="#e4180c"/>
<path d="M.284 .36L.359 .362L.411 .375L.415 .388L.352 .399L.341 .397L.289 .375L.274 .363Z" fill="#d4100c"/>
</g>
<g stroke="#000" stroke-width="0.9" fill="none">
<polyline points="132.00,297.50 38.70,243.70 38.70,331.40 132.00,385.20"/>
<line x1="38.70" y1="243.70" x2="36.50" y2="243.70"/>
<line x1="38.70" y1="265.62" x2="36.50" y2="265.62"/>
<line x1="38.70" y1="287.55" x2="36.50" y2="287.55"/>
<line x1="38.70" y1="309.48" x2="36.50" y2="309.48"/>
<line x1="38.70" y1="331.40" x2="36.50" y2="331.40"/>
<line x1="58.81" y1="342.99" x2="58.81" y2="345.19"/>
<line x1="87.96" y1="359.81" x2="87.96" y2="362.01"/>
<line x1="117.07" y1="376.59" x2="117.07" y2="378.79"/>
</g>
<text transform="matrix(0.700 0.401 0.000 1.000 35.10 245.30)" font-size="11.5" text-anchor="end" stroke="#000" stroke-width="0.35">0</text>
<text transform="matrix(0.700 0.401 0.000 1.000 35.10 267.23)" font-size="11.5" text-anchor="end" stroke="#000" stroke-width="0.35">100</text>
<text transform="matrix(0.700 0.401 0.000 1.000 35.10 289.15)" font-size="11.5" text-anchor="end" stroke="#000" stroke-width="0.35">200</text>
<text transform="matrix(0.700 0.401 0.000 1.000 35.10 311.08)" font-size="11.5" text-anchor="end" stroke="#000" stroke-width="0.35">300</text>
<text transform="matrix(0.700 0.401 0.000 1.000 35.10 333.00)" font-size="11.5" text-anchor="end" stroke="#000" stroke-width="0.35">400</text>
<text transform="matrix(0.680 0.390 0.050 1.000 57.61 355.59)" font-size="11.5" text-anchor="middle" stroke="#000" stroke-width="0.35">150E</text>
<text transform="matrix(0.680 0.390 0.050 1.000 115.87 389.19)" font-size="11.5" text-anchor="middle" stroke="#000" stroke-width="0.35">150W</text>
<g transform="matrix(68.400 -31.669 0 87.700 132.000 297.500)">
<path d="M0 0H1V1H0Z" fill="#91a8f5"/>
<path d="M.016 0L1 0L1 1L0 1L0 0ZM.446 .175L.422 .2L.415 .225L.422 .244L.437 .255L.469 .26L.516 .255L.547 .245L.569 .225L.564 .2L.531 .174L.484 .163Z" fill="#acc6f8"/>
<path d="M.016 0L1 0L1 1L0 1L0 0ZM.077 .05L.062 .065L.056 .087L.057 .113L.067 .138L.078 .147L.109 .153L.141 .148L.172 .132L.187 .113L.189 .1L.182 .075L.171 .062L.148 .05L.125 .045L.094 .045ZM.415 .125L.371 .15L.326 .2L.308 .25L.309 .287L.321 .312L.333 .325L.406 .363L.422 .375L.469 .435L.5 .452L.562 .46L.625 .45L.656 .433L.705 .375L.734 .355L.781 .345L.906 .346L.938 .333L.953 .313L.961 .287L.964 .25L.954 .2L.932 .175L.879 .15L.828 .136L.797 .134L.766 .14L.688 .17L.656 .173L.625 .168L.5 .12L.453 .117Z" fill="#c6e1fa"/>
<path d="M.016 0L.301 0L.285 .025L.266 .031L.109 .008L.078 .007L.047 .014L.027 .037L0 .129L0 0ZM.437 .006L.44 0L.813 0L.8 .025L.75 .057L.696 .1L.672 .114L.641 .121L.594 .114L.455 .062L.435 .05L.427 .037ZM.984 0L1 0L1 .03L.981 .013L.978 0ZM1 .655L1 1L.958 1L.96 .838L.955 .725L.969 .681L.984 .663Z" fill="#fff5be"/>
</g>
<g stroke="#000" stroke-width="0.9" fill="none">
<polyline points="132.00,297.50 200.40,265.83 200.40,353.53 132.00,385.20"/>
<line x1="200.40" y1="265.83" x2="202.60" y2="265.83"/>
<line x1="200.40" y1="287.76" x2="202.60" y2="287.76"/>
<line x1="200.40" y1="309.68" x2="202.60" y2="309.68"/>
<line x1="200.40" y1="331.61" x2="202.60" y2="331.61"/>
<line x1="200.40" y1="353.53" x2="202.60" y2="353.53"/>
</g>
<text transform="matrix(0.750 -0.347 -0.220 1.000 203.00 266.63)" font-size="12.0" text-anchor="start" stroke="#000" stroke-width="0.35">0</text>
<text transform="matrix(0.750 -0.347 -0.220 1.000 203.00 288.56)" font-size="12.0" text-anchor="start" stroke="#000" stroke-width="0.35">100</text>
<text transform="matrix(0.750 -0.347 -0.220 1.000 203.00 310.48)" font-size="12.0" text-anchor="start" stroke="#000" stroke-width="0.35">200</text>
<text transform="matrix(0.750 -0.347 -0.220 1.000 203.00 332.41)" font-size="12.0" text-anchor="start" stroke="#000" stroke-width="0.35">300</text>
<text transform="matrix(0.750 -0.347 -0.220 1.000 203.00 354.33)" font-size="12.0" text-anchor="start" stroke="#000" stroke-width="0.35">400</text>
<text transform="matrix(0.720 -0.333 -0.200 1.000 200.90 363.03)" font-size="11.5" text-anchor="middle" stroke="#000" stroke-width="0.35">30N</text>
<g transform="matrix(53.700 30.931 0 87.700 132.000 297.500)">
<path d="M0 0H1V1H0Z" fill="#acc6f8"/>
<path d="M.021 0L1 0L1 1L0 1L0 0ZM.216 .55L.125 .565L.083 .585L.069 .6L.06 .625L.06 .662L.083 .712L.125 .738L.188 .75L.312 .751L.375 .738L.404 .713L.419 .675L.428 .613L.417 .571L.396 .555L.354 .547Z" fill="#c6e1fa"/>
<path d="M.021 0L1 0L1 1L.573 1L.541 .988L.458 .972L.435 .963L.421 .95L.411 .912L.422 .887L.437 .875L.542 .832L.625 .772L.735 .738L.751 .725L.757 .713L.755 .688L.729 .662L.697 .65L.604 .627L.581 .613L.569 .575L.582 .475L.563 .45L.542 .442L.479 .437L.375 .451L.312 .448L.287 .438L.228 .388L.194 .375L.146 .369L.104 .371L.062 .381L.042 .394L0 .432L0 0Z" fill="#fff5be"/>
<path d="M.021 0L1 0L1 .257L.938 .321L.896 .337L.854 .341L.708 .34L.604 .363L.542 .372L.479 .375L.417 .372L.375 .361L.312 .333L.25 .322L.083 .331L0 .346L0 0ZM1 .747L1 .867L.985 .875L.974 .887L.958 .938L.943 .963L.917 .976L.875 .981L.833 .98L.792 .971L.778 .963L.762 .938L.757 .9L.766 .875L.783 .862L.812 .854L.917 .841L.938 .833L.953 .813L.972 .763Z" fill="#ffe26e"/>
<path d="M.021 0L1 0L1 .159L.979 .167L.936 .225L.896 .251L.875 .256L.833 .257L.729 .237L.687 .238L.646 .256L.583 .305L.521 .324L.458 .32L.354 .28L.292 .266L.229 .261L.104 .264L.062 .261L0 .25L0 0ZM.895 .025L.876 .05L.88 .075L.896 .099L.917 .11L.937 .11L.953 .075L.947 .037L.937 .025L.917 .02Z" fill="#ffc450"/>
<path d="M.021 0L.769 0L.786 .025L.794 .05L.792 .113L.779 .138L.75 .156L.614 .188L.583 .2L.508 .25L.479 .255L.458 .254L.292 .215L.25 .201L.146 .139L.104 .122L.062 .121L0 .146L0 0Z" fill="#ffa437"/>
<path d="M.583 .011L.646 .012L.688 .021L.708 .031L.726 .05L.729 .075L.715 .1L.688 .119L.646 .131L.521 .15L.438 .171L.375 .173L.333 .165L.292 .146L.264 .125L.236 .087L.233 .062L.243 .05L.273 .037L.333 .03L.458 .025Z" fill="#ff841e"/>
</g>
<g stroke="#000" stroke-width="0.9" fill="none">
<polyline points="132.00,297.50 185.70,328.43 185.70,416.13 132.00,385.20"/>
<line x1="146.34" y1="393.46" x2="146.34" y2="395.66"/>
<line x1="175.50" y1="410.25" x2="175.50" y2="412.45"/>
</g>
<text transform="matrix(0.720 0.413 0.000 1.000 145.84 407.26)" font-size="11.5" text-anchor="middle" stroke="#000" stroke-width="0.35">120W</text>
<text transform="matrix(0.720 0.413 0.000 1.000 175.00 424.05)" font-size="11.5" text-anchor="middle" stroke="#000" stroke-width="0.35">90W</text>
<g transform="matrix(69.400 -32.300 0 87.700 62.600 329.800)">
<path d="M0 0H1V1H0Z" fill="#91a8f5"/>
<path d="M.016 0L1 0L1 1L0 1L0 0ZM.397 .338L.359 .353L.333 .375L.32 .412L.329 .437L.359 .456L.422 .468L.469 .466L.5 .453L.516 .437L.527 .412L.526 .388L.515 .362L.5 .347L.469 .332L.438 .33ZM.055 .925L.04 .938L.047 .957L.062 .967L.078 .968L.091 .963L.096 .95L.092 .938L.078 .927Z" fill="#acc6f8"/>
<path d="M.016 0L1 0L1 1L.187 1L.184 .912L.172 .874L.156 .862L.125 .855L0 .851L0 0ZM.244 .037L.219 .047L.203 .058L.141 .129L.072 .175L.045 .2L.035 .238L.041 .3L.032 .362L.035 .4L.047 .418L.062 .429L.125 .451L.156 .468L.203 .536L.22 .55L.25 .559L.344 .555L.375 .562L.469 .637L.5 .646L.516 .638L.531 .613L.547 .537L.577 .475L.586 .437L.581 .375L.552 .287L.552 .212L.542 .175L.531 .16L.5 .144L.391 .143L.359 .136L.328 .113L.281 .045L.266 .037ZM.734 .15L.719 .157L.703 .172L.689 .213L.702 .375L.711 .412L.729 .437L.766 .455L.812 .459L.875 .448L.918 .425L.938 .4L.954 .35L.948 .312L.926 .287L.86 .237L.815 .175L.797 .159L.766 .147ZM.791 .938L.777 .95L.788 .963L.828 .963L.842 .95L.824 .938ZM.014 1L0 1L0 .989Z" fill="#c6e1fa"/>
<path d="M.016 0L.173 0L.094 .091L.062 .113L0 .141L0 0ZM.938 0L1 0L1 .052L.969 .031ZM.641 .548L.656 .546L.677 .55L.694 .562L.701 .575L.706 .6L.701 .688L.71 .712L.721 .725L.75 .742L.781 .748L.891 .743L.922 .746L.938 .753L.953 .77L.96 .813L.953 .839L.938 .855L.922 .862L.891 .864L.781 .858L.734 .871L.703 .894L.654 .95L.63 .962L.609 .965L.589 .962L.567 .95L.555 .925L.554 .9L.573 .8L.573 .7L.587 .613L.609 .567ZM.281 .623L.328 .616L.375 .625L.422 .655L.46 .7L.468 .738L.456 .775L.425 .813L.391 .832L.359 .836L.328 .824L.24 .75L.209 .713L.206 .688L.216 .662L.245 .637Z" fill="#fff5be"/>
<path d="M1 0L1 .006L.992 0ZM.312 .67L.328 .665L.359 .665L.375 .671L.397 .688L.406 .702L.41 .725L.406 .738L.391 .757L.375 .764L.348 .763L.308 .738L.297 .722L.291 .7L.297 .684Z" fill="#ffe26e"/>
</g>
<g stroke="#000" stroke-width="0.9" fill="none">
<polyline points="132.00,297.50 62.60,329.80 62.60,417.50 132.00,385.20 132.00,297.50"/>
<line x1="62.60" y1="351.73" x2="60.60" y2="351.73"/>
<line x1="62.60" y1="373.65" x2="60.60" y2="373.65"/>
<line x1="62.60" y1="395.58" x2="60.60" y2="395.58"/>
<line x1="85.73" y1="406.73" x2="85.73" y2="404.73"/>
<line x1="108.87" y1="395.97" x2="108.87" y2="393.97"/>
</g>
<polygon points="105.07,323.36 111.53,320.36 111.53,393.85 105.07,396.86" fill="none" stroke="#e0202a" stroke-width="1.5" stroke-dasharray="2.7 1.6" stroke-linejoin="miter"/>
<text transform="matrix(0.720 -0.333 -0.200 1.000 62.60 430.70)" font-size="12.0" text-anchor="middle" stroke="#000" stroke-width="0.35">30S</text>
<text transform="matrix(0.720 -0.333 -0.200 1.000 85.73 419.93)" font-size="12.0" text-anchor="middle" stroke="#000" stroke-width="0.35">20S</text>
<text transform="matrix(0.720 -0.333 -0.200 1.000 108.87 409.17)" font-size="12.0" text-anchor="middle" stroke="#000" stroke-width="0.35">10S</text>
<text transform="matrix(0.720 -0.333 -0.200 1.000 132.00 398.40)" font-size="12.0" text-anchor="middle" stroke="#000" stroke-width="0.35">EQ</text>
<text x="-0.5" y="245.9" font-size="15.5">(d)</text>
<g transform="matrix(92.500 53.600 0 87.700 273.500 242.300)">
<path d="M0 0H1V1H0Z" fill="#acc6f8"/>
<path d="M.011 0L1 0L1 1L.233 1L.236 .938L.229 .887L.216 .859L.205 .849L.193 .845L.182 .845L.159 .857L.136 .88L.115 .912L.105 .95L.109 .975L.118 1L0 1L0 0Z" fill="#c6e1fa"/>
<path d="M.011 0L1 0L1 .544L.966 .517L.943 .517L.928 .525L.909 .543L.864 .61L.841 .631L.807 .642L.739 .642L.648 .669L.602 .672L.477 .665L.386 .667L.284 .645L.252 .65L.239 .664L.222 .713L.208 .738L.148 .785L.125 .807L.061 .9L.05 .925L.045 .95L.048 .975L.057 1L0 1L0 0Z" fill="#fff5be"/>
<path d="M.011 0L.31 0L.305 .025L.307 .037L.352 .042L.372 .05L.416 .113L.432 .124L.455 .128L.477 .123L.505 .1L.518 .075L.52 .05L.513 .037L.5 .029L.443 .013L.422 0L1 0L1 .356L.961 .425L.889 .475L.83 .549L.807 .559L.75 .55L.727 .554L.67 .607L.636 .623L.602 .627L.5 .619L.375 .621L.33 .606L.261 .56L.239 .557L.159 .567L.125 .561L.057 .54L.045 .545L.022 .613L0 .644L0 0Z" fill="#ffe26e"/>
<path d="M.17 .025L.193 .031L.201 .037L.225 .1L.239 .115L.261 .125L.331 .138L.398 .174L.443 .178L.489 .172L.557 .145L.58 .14L.614 .146L.648 .164L.739 .263L.764 .3L.77 .325L.772 .362L.768 .4L.761 .42L.75 .437L.685 .488L.643 .55L.625 .567L.596 .575L.523 .575L.409 .587L.375 .585L.352 .577L.286 .525L.261 .515L.239 .513L.182 .521L.148 .513L.13 .5L.12 .488L.095 .437L.068 .416L.034 .412L0 .433L0 .063L.023 .076L.057 .078L.091 .064L.136 .031Z" fill="#ffc450"/>
<path d="M.011 .134L.057 .127L.114 .132L.182 .173L.205 .177L.261 .176L.295 .185L.352 .224L.375 .232L.466 .227L.498 .237L.534 .258L.557 .263L.614 .244L.636 .247L.66 .263L.689 .3L.699 .325L.7 .362L.716 .373L.724 .388L.727 .4L.724 .412L.705 .435L.639 .45L.602 .494L.557 .519L.432 .553L.398 .555L.364 .548L.284 .494L.182 .473L.168 .463L.13 .412L.091 .384L.034 .362L0 .357L0 .139Z" fill="#ffa437"/>
<path d="M.034 .189L.08 .196L.205 .237L.364 .281L.375 .287L.489 .319L.58 .352L.684 .375L.705 .386L.709 .4L.706 .412L.693 .422L.591 .442L.489 .444L.402 .425L.352 .419L.193 .356L.045 .265L.028 .25L.018 .225L.019 .212Z" fill="#ff841e"/>
<path d="M.045 .216L.068 .216L.114 .225L.341 .289L.651 .388L.664 .4L.647 .412L.596 .425L.5 .429L.341 .401L.205 .345L.149 .312L.092 .275L.045 .238L.04 .225Z" fill="#ff5f0c"/>
<path d="M.125 .254L.159 .256L.245 .275L.422 .325L.562 .375L.584 .388L.592 .4L.554 .412L.489 .417L.341 .39L.193 .324L.128 .275L.118 .263Z" fill="#f5370f"/>
<path d="M.205 .293L.25 .294L.341 .313L.49 .362L.514 .375L.524 .388L.511 .396L.489 .401L.341 .377L.214 .312L.2 .3Z" fill="#e4180c"/>
<path d="M.318 .335L.341 .333L.384 .35L.375 .361L.352 .36L.328 .35L.315 .338Z" fill="#d4100c"/>
</g>
<g stroke="#000" stroke-width="0.9" fill="none">
<polyline points="366.00,295.90 273.50,242.30 273.50,330.00 366.00,383.60"/>
<line x1="273.50" y1="242.30" x2="271.30" y2="242.30"/>
<line x1="273.50" y1="264.23" x2="271.30" y2="264.23"/>
<line x1="273.50" y1="286.15" x2="271.30" y2="286.15"/>
<line x1="273.50" y1="308.08" x2="271.30" y2="308.08"/>
<line x1="273.50" y1="330.00" x2="271.30" y2="330.00"/>
<line x1="293.43" y1="341.55" x2="293.43" y2="343.75"/>
<line x1="322.34" y1="358.30" x2="322.34" y2="360.50"/>
<line x1="351.20" y1="375.02" x2="351.20" y2="377.22"/>
</g>
<text transform="matrix(0.700 0.401 0.000 1.000 269.90 243.90)" font-size="11.5" text-anchor="end" stroke="#000" stroke-width="0.35">0</text>
<text transform="matrix(0.700 0.401 0.000 1.000 269.90 265.83)" font-size="11.5" text-anchor="end" stroke="#000" stroke-width="0.35">100</text>
<text transform="matrix(0.700 0.401 0.000 1.000 269.90 287.75)" font-size="11.5" text-anchor="end" stroke="#000" stroke-width="0.35">200</text>
<text transform="matrix(0.700 0.401 0.000 1.000 269.90 309.68)" font-size="11.5" text-anchor="end" stroke="#000" stroke-width="0.35">300</text>
<text transform="matrix(0.700 0.401 0.000 1.000 269.90 331.60)" font-size="11.5" text-anchor="end" stroke="#000" stroke-width="0.35">400</text>
<text transform="matrix(0.680 0.390 0.050 1.000 292.23 354.15)" font-size="11.5" text-anchor="middle" stroke="#000" stroke-width="0.35">150E</text>
<text transform="matrix(0.680 0.390 0.050 1.000 350.00 387.62)" font-size="11.5" text-anchor="middle" stroke="#000" stroke-width="0.35">150W</text>
<g transform="matrix(69.400 -32.132 0 87.700 366.000 295.900)">
<path d="M0 0H1V1H0Z" fill="#91a8f5"/>
<path d="M.016 0L1 0L1 1L0 1L0 0ZM.567 .237L.548 .25L.543 .275L.547 .313L.562 .342L.578 .351L.609 .354L.641 .348L.663 .338L.677 .325L.691 .3L.693 .275L.688 .261L.672 .248L.641 .24L.594 .235Z" fill="#acc6f8"/>
<path d="M.016 0L1 0L1 1L0 1L0 0ZM.59 .15L.516 .163L.484 .18L.467 .2L.454 .237L.45 .3L.435 .362L.436 .388L.446 .412L.469 .435L.542 .475L.58 .525L.609 .546L.641 .553L.75 .551L.781 .565L.834 .625L.859 .643L.906 .654L.938 .65L.953 .643L.973 .613L.976 .575L.958 .475L.952 .35L.942 .312L.928 .287L.822 .2L.781 .178L.719 .164Z" fill="#c6e1fa"/>
<path d="M.078 0L1 0L1 .331L.96 .237L.89 .163L.844 .14L.723 .113L.656 .076L.625 .068L.594 .075L.453 .147L.425 .175L.391 .225L.359 .248L.312 .253L.266 .241L.188 .201L.156 .178L.125 .147L.103 .113L.088 .075L.074 .013L.073 0Z" fill="#fff5be"/>
<path d="M.156 .007L.164 0L1 0L1 .032L.953 .024L.922 .027L.892 .037L.828 .074L.781 .079L.734 .065L.67 .025L.641 .019L.594 .021L.562 .033L.5 .073L.422 .107L.359 .169L.344 .179L.312 .186L.281 .183L.234 .169L.198 .15L.168 .125L.15 .1L.137 .062L.137 .037Z" fill="#ffe26e"/>
<path d="M.219 .024L.25 .016L.281 .016L.312 .024L.331 .037L.338 .05L.339 .075L.33 .1L.312 .118L.297 .126L.266 .129L.234 .12L.206 .1L.191 .075L.19 .05L.198 .037Z" fill="#ffc450"/>
</g>
<g stroke="#000" stroke-width="0.9" fill="none">
<polyline points="366.00,295.90 435.40,263.77 435.40,351.47 366.00,383.60"/>
<line x1="435.40" y1="263.77" x2="437.60" y2="263.77"/>
<line x1="435.40" y1="285.69" x2="437.60" y2="285.69"/>
<line x1="435.40" y1="307.62" x2="437.60" y2="307.62"/>
<line x1="435.40" y1="329.54" x2="437.60" y2="329.54"/>
<line x1="435.40" y1="351.47" x2="437.60" y2="351.47"/>
</g>
<text transform="matrix(0.750 -0.347 -0.220 1.000 438.00 264.57)" font-size="12.0" text-anchor="start" stroke="#000" stroke-width="0.35">0</text>
<text transform="matrix(0.750 -0.347 -0.220 1.000 438.00 286.49)" font-size="12.0" text-anchor="start" stroke="#000" stroke-width="0.35">100</text>
<text transform="matrix(0.750 -0.347 -0.220 1.000 438.00 308.42)" font-size="12.0" text-anchor="start" stroke="#000" stroke-width="0.35">200</text>
<text transform="matrix(0.750 -0.347 -0.220 1.000 438.00 330.34)" font-size="12.0" text-anchor="start" stroke="#000" stroke-width="0.35">300</text>
<text transform="matrix(0.750 -0.347 -0.220 1.000 438.00 352.27)" font-size="12.0" text-anchor="start" stroke="#000" stroke-width="0.35">400</text>
<text transform="matrix(0.720 -0.333 -0.200 1.000 435.90 360.97)" font-size="11.5" text-anchor="middle" stroke="#000" stroke-width="0.35">30N</text>
<g transform="matrix(54.400 31.334 0 87.700 366.000 295.900)">
<path d="M0 0H1V1H0Z" fill="#acc6f8"/>
<path d="M.021 0L1 0L1 1L0 1L0 0ZM.398 .425L.354 .434L.312 .45L.208 .527L.091 .588L.062 .609L.042 .639L.032 .688L.042 .721L.062 .74L.083 .747L.125 .751L.167 .746L.196 .738L.229 .718L.292 .669L.375 .626L.455 .575L.576 .525L.587 .512L.584 .488L.542 .45L.479 .427L.438 .423Z" fill="#c6e1fa"/>
<path d="M.021 0L.969 0L1 .023L1 .552L.938 .559L.896 .558L.812 .542L.771 .523L.678 .45L.61 .412L.521 .38L.417 .363L.375 .363L.312 .377L.177 .425L.083 .465L.042 .469L0 .467L0 0ZM.312 .861L.417 .853L1 .855L1 1L0 1L0 .972L.042 .98L.104 .982L.146 .978L.188 .965L.208 .949L.254 .887L.273 .875Z" fill="#fff5be"/>
<path d="M.417 0L.591 0L.58 .025L.581 .037L.596 .05L.646 .063L.708 .063L.854 .043L.899 .05L.932 .075L.944 .113L.934 .15L.897 .2L.851 .237L.729 .321L.688 .343L.625 .345L.438 .316L.375 .315L.312 .329L.229 .364L.167 .384L.062 .409L0 .418L0 .036L.062 .018L.104 .019L.146 .03L.208 .061L.25 .073L.312 .079L.375 .077L.438 .063L.457 .05L.459 .037L.449 .025Z" fill="#ffe26e"/>
<path d="M.25 .125L.312 .119L.375 .12L.542 .143L.646 .136L.708 .137L.758 .15L.771 .163L.772 .188L.754 .212L.729 .231L.688 .252L.646 .265L.583 .271L.438 .27L.354 .278L.292 .296L.209 .338L.146 .36L.083 .373L0 .381L0 .166L.043 .188L.062 .191L.104 .19L.144 .175L.205 .138Z" fill="#ffc450"/>
<path d="M.312 .162L.354 .162L.397 .175L.412 .188L.416 .2L.41 .213L.396 .221L.354 .235L.271 .253L.249 .263L.182 .312L.125 .336L.062 .346L0 .341L0 .235L.104 .234L.182 .225L.208 .215L.267 .175Z" fill="#ffa437"/>
</g>
<g stroke="#000" stroke-width="0.9" fill="none">
<polyline points="366.00,295.90 420.40,327.23 420.40,414.93 366.00,383.60"/>
<line x1="380.52" y1="391.97" x2="380.52" y2="394.17"/>
<line x1="410.06" y1="408.98" x2="410.06" y2="411.18"/>
</g>
<text transform="matrix(0.720 0.413 0.000 1.000 380.02 405.77)" font-size="11.5" text-anchor="middle" stroke="#000" stroke-width="0.35">120W</text>
<text transform="matrix(0.720 0.413 0.000 1.000 409.56 422.78)" font-size="11.5" text-anchor="middle" stroke="#000" stroke-width="0.35">90W</text>
<g transform="matrix(69.400 -32.300 0 87.700 296.600 328.200)">
<path d="M0 0H1V1H0Z" fill="#91a8f5"/>
<path d="M.016 0L1 0L1 1L0 1L0 0ZM.397 .325L.375 .34L.354 .375L.349 .412L.354 .437L.371 .463L.391 .477L.422 .489L.453 .49L.484 .475L.504 .45L.516 .412L.514 .362L.498 .338L.469 .32L.438 .316Z" fill="#acc6f8"/>
<path d="M.016 0L1 0L1 1L.187 1L.187 .925L.182 .9L.172 .879L.141 .857L.078 .837L.056 .825L0 .758L0 .569L.032 .637L.047 .656L.062 .664L.094 .665L.124 .65L.141 .632L.157 .6L.168 .55L.172 .5L.164 .338L.191 .225L.185 .2L.172 .185L.151 .175L.109 .17L.078 .173L.047 .183L0 .229L0 0ZM.803 .237L.766 .245L.732 .263L.707 .287L.701 .312L.723 .388L.722 .488L.733 .525L.75 .548L.766 .56L.781 .568L.812 .573L.844 .569L.875 .558L.906 .537L.916 .525L.927 .487L.924 .4L.943 .312L.935 .287L.904 .263L.844 .242ZM.41 .25L.375 .261L.35 .275L.315 .312L.295 .375L.293 .45L.313 .488L.349 .512L.438 .549L.469 .554L.484 .552L.5 .543L.516 .523L.537 .475L.554 .4L.56 .325L.547 .297L.5 .262L.453 .247ZM.002 .975L.019 1L0 1Z" fill="#c6e1fa"/>
<path d="M.016 0L.179 0L.2 .037L.2 .062L.191 .087L.172 .105L.141 .119L.04 .138L0 .15L0 0ZM.328 0L1 0L1 .145L.969 .139L.953 .125L.929 .062L.906 .037L.875 .026L.844 .022L.797 .021L.75 .026L.717 .037L.703 .05L.698 .062L.709 .163L.695 .2L.656 .231L.625 .239L.609 .238L.578 .224L.562 .21L.549 .188L.546 .15L.556 .075L.547 .048L.531 .036L.5 .029L.406 .031L.375 .026L.344 .013ZM.609 .374L.625 .364L.641 .364L.656 .372L.672 .393L.677 .412L.673 .525L.702 .625L.676 .725L.673 .763L.681 .8L.703 .829L.734 .845L.766 .847L.794 .837L.81 .825L.827 .787L.83 .688L.844 .663L.859 .65L.891 .637L.922 .632L.953 .64L.969 .659L.98 .7L.983 .75L.969 .875L.955 .912L.938 .937L.895 .963L.837 .975L.75 .98L.672 .977L.625 .966L.6 .95L.551 .887L.519 .862L.484 .85L.391 .844L.359 .836L.328 .816L.206 .713L.199 .675L.217 .6L.234 .569L.25 .555L.266 .549L.297 .549L.359 .568L.4 .588L.469 .63L.5 .642L.531 .637L.546 .625L.561 .6L.569 .575L.588 .425L.595 .4Z" fill="#fff5be"/>
<path d="M.031 .011L.055 0L.078 .002L.094 .009L.117 .025L.126 .037L.123 .062L.109 .075L.078 .086L.047 .085L.031 .078L.017 .05L.021 .025ZM.297 .624L.312 .619L.344 .621L.375 .634L.406 .657L.432 .688L.443 .713L.442 .738L.432 .75L.406 .761L.375 .759L.344 .744L.319 .725L.296 .7L.283 .675L.281 .648Z" fill="#ffe26e"/>
</g>
<g stroke="#000" stroke-width="0.9" fill="none">
<polyline points="366.00,295.90 296.60,328.20 296.60,415.90 366.00,383.60 366.00,295.90"/>
<line x1="296.60" y1="350.12" x2="294.60" y2="350.12"/>
<line x1="296.60" y1="372.05" x2="294.60" y2="372.05"/>
<line x1="296.60" y1="393.98" x2="294.60" y2="393.98"/>
<line x1="319.73" y1="405.13" x2="319.73" y2="403.13"/>
<line x1="342.87" y1="394.37" x2="342.87" y2="392.37"/>
</g>
<polygon points="339.49,321.39 346.08,318.33 346.08,391.99 339.49,395.06" fill="none" stroke="#e0202a" stroke-width="1.5" stroke-dasharray="2.7 1.6" stroke-linejoin="miter"/>
<text transform="matrix(0.720 -0.333 -0.200 1.000 296.60 429.10)" font-size="12.0" text-anchor="middle" stroke="#000" stroke-width="0.35">30S</text>
<text transform="matrix(0.720 -0.333 -0.200 1.000 319.73 418.33)" font-size="12.0" text-anchor="middle" stroke="#000" stroke-width="0.35">20S</text>
<text transform="matrix(0.720 -0.333 -0.200 1.000 342.87 407.57)" font-size="12.0" text-anchor="middle" stroke="#000" stroke-width="0.35">10S</text>
<text transform="matrix(0.720 -0.333 -0.200 1.000 366.00 396.80)" font-size="12.0" text-anchor="middle" stroke="#000" stroke-width="0.35">EQ</text>
<text x="233.5" y="245.2" font-size="15.5">(e)</text>
<g transform="matrix(93.100 53.800 0 87.700 504.200 245.500)">
<path d="M0 0H1V1H0Z" fill="#c6e1fa"/>
<path d="M.011 0L1 0L1 .644L.489 .645L.455 .636L.404 .6L.352 .576L.307 .564L.273 .566L.25 .579L.205 .626L.155 .662L.145 .675L.133 .7L.128 .738L.134 .85L.129 1L0 1L0 0Z" fill="#fff5be"/>
<path d="M.011 0L1 0L1 .55L.727 .552L.58 .538L.557 .543L.5 .568L.466 .572L.42 .563L.295 .524L.261 .52L.236 .525L.182 .552L.159 .552L.144 .537L.12 .475L.1 .45L.08 .44L.057 .436L0 .442L0 0ZM.011 .964L.034 .967L.045 .982L.051 1L0 1L0 .965Z" fill="#ffe26e"/>
<path d="M.011 0L1 0L1 .457L.943 .447L.841 .451L.761 .444L.659 .472L.557 .468L.534 .476L.477 .514L.432 .526L.375 .519L.295 .49L.216 .47L.193 .452L.149 .4L.101 .362L.057 .31L.045 .305L.034 .307L0 .344L0 0Z" fill="#ffc450"/>
<path d="M.205 .007L.212 0L.331 0L.341 .013L.364 .031L.398 .044L.432 .047L.523 .04L.545 .044L.591 .061L.614 .063L.636 .055L.682 .028L.746 .013L.768 0L1 0L1 .249L.989 .253L.979 .263L.964 .312L.955 .333L.943 .344L.92 .354L.875 .357L.784 .338L.75 .339L.727 .351L.683 .4L.659 .417L.625 .425L.568 .42L.545 .422L.523 .432L.455 .476L.42 .485L.375 .481L.273 .451L.25 .442L.227 .427L.138 .338L.121 .312L.096 .263L.08 .245L.057 .235L.034 .234L0 .248L0 .041L.091 .041L.136 .036L.17 .027Z" fill="#ffa437"/>
<path d="M.705 .072L.727 .065L.75 .071L.803 .125L.848 .163L.857 .175L.866 .2L.864 .235L.852 .251L.816 .263L.803 .287L.795 .294L.682 .312L.661 .325L.636 .362L.614 .374L.534 .384L.455 .426L.432 .432L.295 .423L.261 .411L.239 .394L.166 .312L.148 .3L.136 .275L.135 .25L.148 .221L.193 .213L.307 .205L.364 .169L.409 .156L.568 .157L.614 .151L.648 .133Z" fill="#ff841e"/>
<path d="M.193 .237L.273 .226L.557 .253L.67 .253L.711 .263L.717 .275L.568 .336L.42 .344L.261 .314L.185 .287L.162 .275L.155 .263L.159 .249Z" fill="#ff5f0c"/>
<path d="M.25 .262L.273 .252L.409 .259L.544 .275L.592 .287L.585 .3L.557 .314L.42 .324L.273 .29L.248 .275Z" fill="#f5370f"/>
</g>
<g stroke="#000" stroke-width="0.9" fill="none">
<polyline points="597.30,299.30 504.20,245.50 504.20,333.20 597.30,387.00"/>
<line x1="504.20" y1="245.50" x2="502.00" y2="245.50"/>
<line x1="504.20" y1="267.43" x2="502.00" y2="267.43"/>
<line x1="504.20" y1="289.35" x2="502.00" y2="289.35"/>
<line x1="504.20" y1="311.27" x2="502.00" y2="311.27"/>
<line x1="504.20" y1="333.20" x2="502.00" y2="333.20"/>
<line x1="524.26" y1="344.79" x2="524.26" y2="346.99"/>
<line x1="553.36" y1="361.61" x2="553.36" y2="363.81"/>
<line x1="582.40" y1="378.39" x2="582.40" y2="380.59"/>
</g>
<text transform="matrix(0.700 0.401 0.000 1.000 500.60 247.10)" font-size="11.5" text-anchor="end" stroke="#000" stroke-width="0.35">0</text>
<text transform="matrix(0.700 0.401 0.000 1.000 500.60 269.03)" font-size="11.5" text-anchor="end" stroke="#000" stroke-width="0.35">100</text>
<text transform="matrix(0.700 0.401 0.000 1.000 500.60 290.95)" font-size="11.5" text-anchor="end" stroke="#000" stroke-width="0.35">200</text>
<text transform="matrix(0.700 0.401 0.000 1.000 500.60 312.88)" font-size="11.5" text-anchor="end" stroke="#000" stroke-width="0.35">300</text>
<text transform="matrix(0.700 0.401 0.000 1.000 500.60 334.80)" font-size="11.5" text-anchor="end" stroke="#000" stroke-width="0.35">400</text>
<text transform="matrix(0.680 0.390 0.050 1.000 523.06 357.39)" font-size="11.5" text-anchor="middle" stroke="#000" stroke-width="0.35">150E</text>
<text transform="matrix(0.680 0.390 0.050 1.000 581.20 390.99)" font-size="11.5" text-anchor="middle" stroke="#000" stroke-width="0.35">150W</text>
<g transform="matrix(69.100 -31.993 0 87.700 597.300 299.300)">
<path d="M0 0H1V1H0Z" fill="#acc6f8"/>
<path d="M.016 0L1 0L1 .436L.938 .384L.854 .338L.788 .263L.766 .25L.734 .242L.562 .234L.516 .236L.484 .243L.469 .25L.446 .275L.434 .312L.43 .35L.434 .388L.453 .419L.531 .468L.587 .525L.664 .575L.719 .632L.75 .649L.781 .656L.828 .657L.891 .645L.922 .626L.969 .577L1 .561L1 1L0 1L0 0Z" fill="#c6e1fa"/>
<path d="M.016 0L1 0L1 .146L.812 .137L.781 .141L.672 .168L.562 .176L.469 .169L.344 .137L.203 .143L0 .141L0 0ZM1 .859L1 1L.955 1L.946 .963L.949 .925L.969 .884Z" fill="#fff5be"/>
<path d="M.016 0L.932 0L.96 .037L.958 .05L.938 .062L.812 .058L.768 .062L.734 .073L.641 .12L.594 .129L.547 .13L.5 .124L.469 .114L.375 .06L.344 .05L.312 .049L.203 .061L.062 .055L0 .058L0 0Z" fill="#ffe26e"/>
<path d="M.453 0L.81 0L.688 .034L.609 .075L.562 .082L.516 .075L.484 .06L.45 .025L.439 0Z" fill="#ffc450"/>
</g>
<g stroke="#000" stroke-width="0.9" fill="none">
<polyline points="597.30,299.30 666.40,267.31 666.40,355.01 597.30,387.00"/>
<line x1="666.40" y1="267.31" x2="668.60" y2="267.31"/>
<line x1="666.40" y1="289.23" x2="668.60" y2="289.23"/>
<line x1="666.40" y1="311.16" x2="668.60" y2="311.16"/>
<line x1="666.40" y1="333.08" x2="668.60" y2="333.08"/>
<line x1="666.40" y1="355.01" x2="668.60" y2="355.01"/>
</g>
<text transform="matrix(0.750 -0.347 -0.220 1.000 669.00 268.11)" font-size="12.0" text-anchor="start" stroke="#000" stroke-width="0.35">0</text>
<text transform="matrix(0.750 -0.347 -0.220 1.000 669.00 290.03)" font-size="12.0" text-anchor="start" stroke="#000" stroke-width="0.35">100</text>
<text transform="matrix(0.750 -0.347 -0.220 1.000 669.00 311.96)" font-size="12.0" text-anchor="start" stroke="#000" stroke-width="0.35">200</text>
<text transform="matrix(0.750 -0.347 -0.220 1.000 669.00 333.88)" font-size="12.0" text-anchor="start" stroke="#000" stroke-width="0.35">300</text>
<text transform="matrix(0.750 -0.347 -0.220 1.000 669.00 355.81)" font-size="12.0" text-anchor="start" stroke="#000" stroke-width="0.35">400</text>
<text transform="matrix(0.720 -0.333 -0.200 1.000 666.90 364.51)" font-size="11.5" text-anchor="middle" stroke="#000" stroke-width="0.35">30N</text>
<g transform="matrix(54.400 31.334 0 87.700 597.300 299.300)">
<path d="M0 0H1V1H0Z" fill="#c6e1fa"/>
<path d="M.021 0L1 0L1 .361L.952 .425L.938 .439L.917 .448L.875 .454L.812 .446L.771 .425L.753 .4L.747 .375L.76 .25L.754 .212L.741 .188L.711 .163L.667 .146L.604 .136L.542 .136L.5 .148L.464 .175L.449 .2L.424 .275L.394 .312L.29 .362L.188 .435L.083 .485L0 .535L0 0ZM.521 .648L.583 .646L.729 .651L.917 .647L1 .65L1 1L0 1L0 .849L.036 .825L.083 .769L.125 .754L.292 .754L.354 .744L.389 .725L.458 .666Z" fill="#fff5be"/>
<path d="M.021 0L.407 0L.411 .037L.369 .2L.341 .25L.292 .284L.172 .338L.096 .4L0 .451L0 0Z" fill="#ffe26e"/>
<path d="M.021 0L.254 0L.262 .037L.297 .125L.302 .163L.298 .188L.285 .212L.25 .241L.188 .268L0 .326L0 0Z" fill="#ffc450"/>
<path d="M.021 0L.087 0L.167 .053L.189 .075L.214 .113L.225 .163L.208 .2L.173 .225L.104 .253L0 .281L0 0Z" fill="#ffa437"/>
<path d="M.021 .074L.062 .077L.083 .083L.114 .1L.137 .125L.145 .163L.132 .188L.1 .213L.045 .237L0 .25L0 .075Z" fill="#ff841e"/>
<path d="M.021 .131L.05 .15L.054 .175L.033 .2L0 .216L0 .126Z" fill="#ff5f0c"/>
</g>
<g stroke="#000" stroke-width="0.9" fill="none">
<polyline points="597.30,299.30 651.70,330.63 651.70,418.33 597.30,387.00"/>
<line x1="611.82" y1="395.37" x2="611.82" y2="397.57"/>
<line x1="641.36" y1="412.38" x2="641.36" y2="414.58"/>
</g>
<text transform="matrix(0.720 0.413 0.000 1.000 611.32 409.17)" font-size="11.5" text-anchor="middle" stroke="#000" stroke-width="0.35">120W</text>
<text transform="matrix(0.720 0.413 0.000 1.000 640.86 426.18)" font-size="11.5" text-anchor="middle" stroke="#000" stroke-width="0.35">90W</text>
<g transform="matrix(69.400 -32.300 0 87.700 527.900 331.600)">
<path d="M0 0H1V1H0Z" fill="#91a8f5"/>
<path d="M.016 0L1 0L1 1L0 1L0 0ZM.433 .45L.421 .463L.413 .488L.416 .512L.43 .537L.453 .559L.469 .566L.5 .568L.516 .562L.531 .544L.537 .525L.536 .5L.525 .475L.514 .463L.484 .445L.453 .442ZM.077 .637L.062 .643L.051 .7L.062 .749L.078 .754L.091 .725L.094 .7L.089 .662Z" fill="#acc6f8"/>
<path d="M.016 0L1 0L1 1L.19 1L.205 .963L.207 .925L.159 .813L.148 .763L.144 .712L.151 .613L.18 .488L.177 .312L.171 .288L.157 .263L.141 .25L.109 .241L.078 .244L.047 .258L.031 .275L.018 .312L.022 .475L.008 .713L.031 .938L.025 1L0 1L0 0ZM.378 .25L.359 .258L.339 .275L.322 .312L.324 .45L.336 .5L.377 .562L.422 .604L.453 .617L.484 .622L.541 .613L.58 .588L.593 .562L.596 .537L.586 .463L.557 .375L.557 .312L.552 .287L.533 .263L.5 .248L.438 .242ZM.854 .375L.828 .384L.814 .4L.815 .425L.836 .45L.875 .462L.922 .462L.953 .452L.967 .437L.972 .425L.972 .4L.966 .388L.953 .379L.906 .372Z" fill="#c6e1fa"/>
<path d="M.016 0L.546 0L.516 .02L.484 .027L.328 .025L.234 .037L.209 .05L.196 .062L.157 .125L.135 .15L0 .225L0 0ZM.703 0L1 0L1 .252L.987 .263L.969 .312L.953 .325L.906 .332L.859 .325L.828 .308L.788 .263L.715 .237L.688 .215L.677 .188L.676 .15L.704 .05L.698 0ZM.905 .125L.866 .138L.839 .163L.827 .2L.835 .225L.844 .232L.875 .24L.938 .244L.969 .24L.979 .225L.98 .2L.969 .144L.953 .129L.94 .125ZM.266 .561L.281 .563L.312 .578L.391 .654L.406 .663L.438 .672L.516 .667L.672 .645L.859 .65L.891 .654L.922 .665L.949 .688L.984 .737L1 .747L1 .96L.891 .987L.853 1L.668 1L.625 .971L.594 .96L.562 .959L.484 .972L.438 .974L.375 .968L.344 .957L.324 .938L.285 .875L.214 .8L.198 .775L.185 .738L.182 .675L.195 .625L.218 .588L.234 .572Z" fill="#fff5be"/>
<path d="M.016 0L.054 0L.085 .025L.093 .037L.098 .062L.088 .1L.069 .125L.04 .15L0 .171L0 0ZM.984 0L1 0L1 .025L.984 .022L.972 .013L.97 0ZM.266 .637L.281 .639L.301 .65L.322 .675L.331 .7L.328 .738L.312 .758L.297 .767L.266 .766L.25 .758L.234 .741L.223 .713L.223 .688L.231 .662L.25 .642ZM.781 .849L.859 .849L.92 .862L.937 .875L.943 .887L.939 .912L.916 .938L.864 .963L.781 .981L.734 .976L.7 .95L.689 .925L.691 .9L.703 .88L.719 .867L.75 .854Z" fill="#ffe26e"/>
<path d="M.01 .025L.032 .05L.035 .075L.025 .1L0 .122L0 .02Z" fill="#ffc450"/>
</g>
<g stroke="#000" stroke-width="0.9" fill="none">
<polyline points="597.30,299.30 527.90,331.60 527.90,419.30 597.30,387.00 597.30,299.30"/>
<line x1="527.90" y1="353.53" x2="525.90" y2="353.53"/>
<line x1="527.90" y1="375.45" x2="525.90" y2="375.45"/>
<line x1="527.90" y1="397.38" x2="525.90" y2="397.38"/>
<line x1="551.03" y1="408.53" x2="551.03" y2="406.53"/>
<line x1="574.17" y1="397.77" x2="574.17" y2="395.77"/>
</g>
<polygon points="570.10,325.29 577.38,321.90 577.38,395.39 570.10,398.78" fill="none" stroke="#e0202a" stroke-width="1.5" stroke-dasharray="2.7 1.6" stroke-linejoin="miter"/>
<text transform="matrix(0.720 -0.333 -0.200 1.000 527.90 432.50)" font-size="12.0" text-anchor="middle" stroke="#000" stroke-width="0.35">30S</text>
<text transform="matrix(0.720 -0.333 -0.200 1.000 551.03 421.73)" font-size="12.0" text-anchor="middle" stroke="#000" stroke-width="0.35">20S</text>
<text transform="matrix(0.720 -0.333 -0.200 1.000 574.17 410.97)" font-size="12.0" text-anchor="middle" stroke="#000" stroke-width="0.35">10S</text>
<text transform="matrix(0.720 -0.333 -0.200 1.000 597.30 400.20)" font-size="12.0" text-anchor="middle" stroke="#000" stroke-width="0.35">EQ</text>
<text x="469.7" y="246.0" font-size="15.5">(f)</text>
<polygon points="206.30,445.30 185.8,450.55 206.30,455.80" fill="#1e1ee1" stroke="#000" stroke-width="0.7"/>
<rect x="206.30" y="445.30" width="19.93" height="10.50" fill="#282de8" stroke="#000" stroke-width="0.7"/>
<rect x="226.23" y="445.30" width="19.93" height="10.50" fill="#3c4bf0" stroke="#000" stroke-width="0.7"/>
<rect x="246.16" y="445.30" width="19.93" height="10.50" fill="#5064f2" stroke="#000" stroke-width="0.7"/>
<rect x="266.09" y="445.30" width="19.93" height="10.50" fill="#647af5" stroke="#000" stroke-width="0.7"/>
<rect x="286.02" y="445.30" width="19.93" height="10.50" fill="#7a8ef5" stroke="#000" stroke-width="0.7"/>
<rect x="305.95" y="445.30" width="19.93" height="10.50" fill="#91a8f5" stroke="#000" stroke-width="0.7"/>
<rect x="325.88" y="445.30" width="19.93" height="10.50" fill="#acc6f8" stroke="#000" stroke-width="0.7"/>
<rect x="345.81" y="445.30" width="19.93" height="10.50" fill="#c6e1fa" stroke="#000" stroke-width="0.7"/>
<rect x="365.74" y="445.30" width="19.93" height="10.50" fill="#fff5be" stroke="#000" stroke-width="0.7"/>
<rect x="385.67" y="445.30" width="19.93" height="10.50" fill="#ffe26e" stroke="#000" stroke-width="0.7"/>
<rect x="405.60" y="445.30" width="19.93" height="10.50" fill="#ffc450" stroke="#000" stroke-width="0.7"/>
<rect x="425.53" y="445.30" width="19.93" height="10.50" fill="#ffa437" stroke="#000" stroke-width="0.7"/>
<rect x="445.46" y="445.30" width="19.93" height="10.50" fill="#ff841e" stroke="#000" stroke-width="0.7"/>
<rect x="465.39" y="445.30" width="19.93" height="10.50" fill="#ff5f0c" stroke="#000" stroke-width="0.7"/>
<rect x="485.32" y="445.30" width="19.93" height="10.50" fill="#f5370f" stroke="#000" stroke-width="0.7"/>
<rect x="505.25" y="445.30" width="19.93" height="10.50" fill="#e4180c" stroke="#000" stroke-width="0.7"/>
<polygon points="525.18,445.30 546.5,450.55 525.18,455.80" fill="#d4100c" stroke="#000" stroke-width="0.7"/>
<text x="206.30" y="469" font-size="11" text-anchor="middle">−1.6</text>
<text x="246.16" y="469" font-size="11" text-anchor="middle">−1.2</text>
<text x="286.02" y="469" font-size="11" text-anchor="middle">−0.8</text>
<text x="325.88" y="469" font-size="11" text-anchor="middle">−0.4</text>
<text x="365.74" y="469" font-size="11" text-anchor="middle">0</text>
<text x="405.60" y="469" font-size="11" text-anchor="middle">0.4</text>
<text x="445.46" y="469" font-size="11" text-anchor="middle">0.8</text>
<text x="485.32" y="469" font-size="11" text-anchor="middle">1.2</text>
<text x="525.18" y="469" font-size="11" text-anchor="middle">1.6</text>
<text x="547.8" y="468.3" font-size="13.8">(deg C)</text>
</svg></body></html>
